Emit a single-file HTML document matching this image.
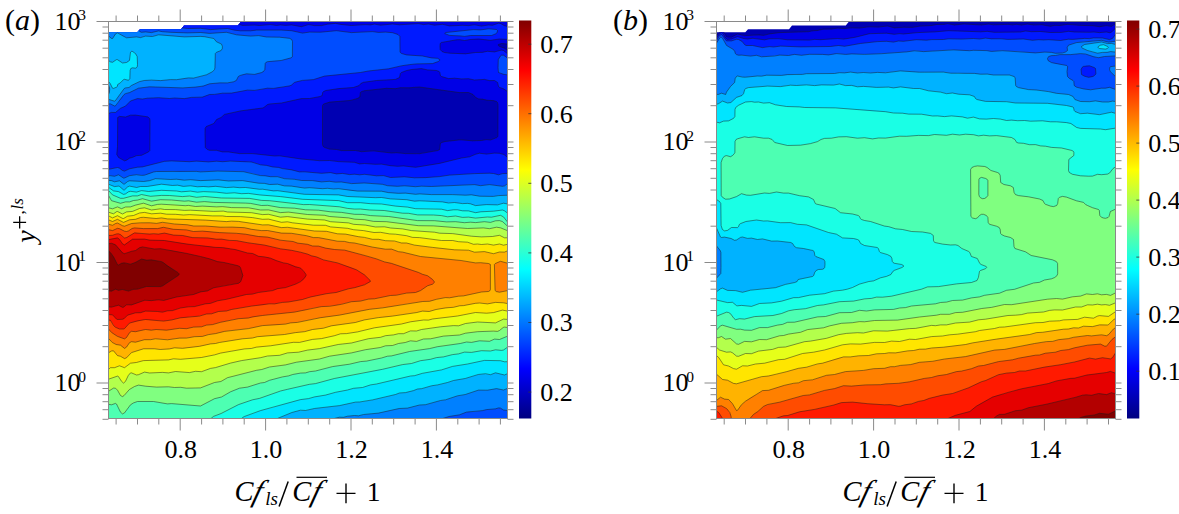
<!DOCTYPE html><html><head><meta charset="utf-8"><style>html,body{margin:0;padding:0;background:#fff;}svg{display:block;}text{font-family:"Liberation Serif",serif;fill:#000;}</style></head><body>
<svg width="1179" height="514" viewBox="0 0 1179 514">
<rect width="1179" height="514" fill="#fff"/>
<defs><linearGradient id="jet" x1="0" y1="1" x2="0" y2="0"><stop offset="0" stop-color="#000080"/><stop offset="0.125" stop-color="#0000ff"/><stop offset="0.375" stop-color="#00ffff"/><stop offset="0.625" stop-color="#ffff00"/><stop offset="0.875" stop-color="#ff0000"/><stop offset="1" stop-color="#800000"/></linearGradient>
<clipPath id="clipa"><polygon points="108.5,418.5 108.5,32.2 137.3,32.2 140.0,29.2 181.0,29.2 184.0,25.6 237.8,25.6 241.0,21.5 507.5,21.5 507.5,418.5"/></clipPath>
<clipPath id="clipb"><polygon points="716.5,418.5 716.5,32.2 745.3,32.2 748.0,29.2 789.0,29.2 792.0,25.6 845.8,25.6 849.0,21.5 1115.5,21.5 1115.5,418.5"/></clipPath>
</defs>
<g clip-path="url(#clipa)" fill-rule="evenodd">
<rect x="107.5" y="20.5" width="401" height="399" fill="#0000b2"/>
<path d="M109.5 21.5l398 0l0 22.6l-6 -0.7l-3.2 1.1l0.1 1l1.3 1l4.8 1.7l3 2.4l0 357.9l0 10l-399 0l0 -397zM412.7 87.5l-12.2 0.2l-5 0.9l-9 -0.4l-22 2.5l-2.8 0.8l-1.3 1l-0.5 4l-0.6 1l-2 1l-6.8 1.9l-21 1.7l-6 1.9l-0.9 1.5l-0.1 39l0.7 2l1.5 1l4.8 1.5l7 0.4l5 1.2l14 -0.1l6 1.1l12 -0.8l18 2.1l5 -0.2l10 0.9l13 0l18.3 -3.1l1.9 -1l0.7 -6l1.3 -1l3.5 -1l15.3 -1.8l12 1.1l9 -0.4l5 -0.8l4 0.3l6.3 -2.4l1.1 -1l0.1 -32l-0.5 -2l-1.1 -1l-2.9 -1l-6 -0.2l-5 -1.2l-4 -0.2l-2.7 -1.4l-2.7 -3l-4.6 -2l-9 0.1l-40 -5.7z" fill="#0000e6"/>
<path d="M109.5 21.5l128.1 0l0.6 2l1.2 1l3.1 0.9l12 -0.3l5 0.4l11 -0.9l6 0.9l4 -0.6l5 0.5l6 -0.5l10 1.8l7 -2.1l6 1l7 0l6 -1.4l8 -0.8l5 1l11 1.1l14 -0.9l5 0.3l4 -0.8l6 1.1l12 -1.2l7 0.8l19 -1.2l5 1l5 -0.6l6 1.2l8 -0.9l7 1.6l13 -0.6l6 0.3l6 -0.8l7 1.3l7 -1.1l4 0.3l6 -2.1l2 0.3l4 2.2l3 0.7l0 13l-8 -0.4l-9 1.3l-12 -1.2l-8.3 0.4l-5.7 1l-5 -0.8l-3 0.1l-15.2 2.7l-1.1 1l-0.2 3l0.2 3l1.8 2l2.5 1l6 0.8l15 0.6l10 -1.4l7 -0.1l5 -1.1l7 0.6l6 -1.7l2 0l2 1l3 2.5l0 37.8l-4 -2.7l-4 -1.4l-1 -0.9l-0.9 -4l-3.1 -2l-5 0l-5 -1.1l-10 0.6l-6 -1.3l-7 0.2l-7 -0.7l-6 0.4l-7 -2.1l-1.1 -1l-0.6 -3l-0.7 -1l-2.6 -1l-9 -0.6l-6 -1.3l-10 0.9l-4.8 1l-5.3 2l-1 1l-0.9 4l-4 1.9l-19 1.1l-13 1.8l-2.7 1.2l-1.6 2l-5.9 2l-14.8 1.1l-12.6 1.9l-2.4 1l-0.8 1l-0.5 3l-2 1l-10.7 2l-8 0.1l-20 4.4l-12 1l-1.9 0.5l-3.8 3l-1.3 0.5l-22 2.9l-16 3.5l-3.5 3.1l-4.4 2l-2.8 4l-7.5 3l-0.9 1l-0.4 2l0.1 17l0.8 2l3.6 1.8l7 0l6 1.6l6 0l11 1.7l13 0l22 2.4l5 -0.2l21 3.1l19 1.7l11 -0.1l8 1.1l16 0.7l2 0.6l3 1l5 -0.4l11 0.8l6 -0.2l9 1.6l7 0.6l6 -0.4l12 1.4l24 -3.9l22 -5.4l8 -1.2l6 -2.5l4 -1.1l7 0.9l8 -1l5 0.2l4.5 1.2l3.5 2.9l0 261.1l-399 0l0 -397zM129.7 115.5l-4.2 1.6l-6 -0.7l-1.8 1.1l-0.3 29l-0.7 8l1.8 3l6 3.3l2 -0.6l3 -2l4 -1.1l3 -1.5l5 -0.3l7 -3.3l1.2 -1.5l0.2 -31l-1 -2l-1.4 -0.7l-13 -1.8z" fill="#001aff"/>
<path d="M109.5 21.5l65.5 0l0.3 4l0.9 1l2.5 1l9.8 1l12 -0.2l9 1.3l18 -1.1l7 1.7l6 0.6l10 0l6 -0.7l25 0l10 0.6l11 2.4l7 -1l11 0.1l16 -1.5l15 1.9l21 -1l6 0.8l7 -0.3l7 0.6l5.5 1.8l1.9 2l0.1 15l0.3 1l1.3 1l4.9 1.4l16 1.1l9 1.9l6 0.4l2.1 1.2l0 1l-1.2 1l-5.9 2.1l-17 0.4l-12 1.4l-7 1.5l-8 1.9l-20 2.2l-8 1.5l-36 3.6l-11 3.5l-11 0.8l-5 1.1l-3.1 1l-3.5 3l-7.4 1.5l-5 0.4l-5 1l-6 -0.2l-12 2.2l-9 -0.2l-15 2.9l-9 0.1l-8 1.2l-5 0.1l-8 2.8l-10 0.1l-8 1.2l-9 -0.6l-5 0.5l-11 -0.8l-11 0.5l-5 0.8l-5 -0.4l-7 2.4l-5 5.1l-5 2.2l-5 4.2l-4 -0.1l-3 1.1l0 -92zM484.5 29.4l4 -0.6l8 0.7l1 1l-0.3 2l-1.7 1.4l-3.9 1.6l-21.1 0l-6 0.9l-4 -0.5l-11 -0.5l-4.8 -1.9l1.2 -1l27.6 -2.9l7 0.3zM501.5 55.2l2 0.1l4 2.7l0 16.9l-3 -0.3l-5 -1.5l-1.4 -1.6l0.2 -12l1.7 -3zM163.5 161.5l8 -0.5l18 0.7l7 -0.5l12 0.7l8 -0.7l6 0.6l8 -0.7l14 0.9l5 -0.2l5 0.9l7 2.3l5 0.4l6 1.6l6 0.4l4 1.2l9 1.3l8 2.1l5 -0.2l17 1.5l9 -0.6l6 1.2l6 -0.5l7 1.2l5 -0.4l5 0.6l5 -0.5l12 1.5l7 -0.2l7 2l14 -0.7l10 0.9l11 -0.1l14 -1.1l10 -1.5l25 -1.5l15 -0.4l4 0.3l5 1.3l4 -1.2l5 -0.2l0 245.1l-45 0l-354 0l0 -249.2l9 -1.8l2 0.7l3 2.4l2 0.5l5 -2.3l8 -1.6l5 -0.3z" fill="#004dff"/>
<path d="M109.5 21.5l28 0l0.6 8l1.4 1.9l2 0.9l4 -0.4l6 0.7l7 -1.7l4 0.8l9 0.6l15 0.6l14 -0.4l9 0.9l17 -1.1l11 2.6l12 1.1l9 -0.4l7 1.3l14 0.3l10.7 1.3l1.5 1l0.8 2l0 14l-0.8 2l-10.5 3l-9.7 0.5l-5 1.1l-1.3 1.4l-0.7 7l-3 2.1l-8 1.9l-7 -0.7l-3.5 0.7l-4.7 2l-2 4l-2.8 1.3l-6 1.1l-7 -0.1l-11 1l-8.6 2.7l-17.4 1.4l-34 -1.1l-11 1.4l-9 4.4l-5 1.6l-3 3.3l-5 7.4l-2 1.1l-4 -2.1l-2 0l0 -82.4zM156.5 171.4l17 -0.2l6 0.5l16 -0.4l5 0.5l17 -0.8l25 0.5l10 1.8l7 2l11 1.4l7 -0.1l7 2l9 0.5l9 1.5l9 -0.2l9 1.4l8 -0.6l6 0.9l7 -0.2l11 1.7l11 -0.6l7 0.2l12 1l6 1.5l8 0.5l8 -0.5l11 0.9l6 -0.5l9 0.4l43 -2l7 1.1l9 -1.1l13 1.8l2 -0.5l3 -2.2l0 226.8l-4 -0.5l-4 -2.2l-5 1.2l-8 0.6l-5 1.2l-8 1l-5 0l-3.3 0.8l-5.7 2.2l-10.5 1.8l-6.2 2l-334.3 0l0 -242.7l2 -0.2l4 0.6l4 -1.4l5 3.2l1 0l5 -2.4l7 -1l7 0.7l5 -1.3l5 -2.1z" fill="#0080ff"/>
<path d="M116.5 33.1l2 0l4 2.8l4 1.9l10 -0.9l4 0.7l5 -1.5l6 0.5l7 -1.8l26 2.1l17 -0.5l10 1.3l2.3 0.8l2.7 3.3l5 2.3l0.9 2.4l-0.1 2l-1.2 2l-4.6 1.8l-1.2 1.2l-0.7 16l-2.1 2.2l-7 3.5l-11 2.7l-4 0.1l-4 0l-10 1.7l-7 0l-9 0.9l-14 -0.4l-6 1.1l-9.1 4.2l-2.4 2l-3.5 0.4l-1.3 0.6l-8.7 12l-1 0.7l-6 -1.9l0 -4.8l1 -2.5l0.2 -2.5l-0.2 -2.1l-1 -2.3l0 -49.1l3 2.5l1 0.1zM153.5 179.2l3 -0.5l14 0.9l6 -0.3l6 1l8 -0.5l9 0.9l18 -0.7l11 1l15 -0.3l15 2.6l5 0l7 1.4l7 -0.4l6 1.5l8 0.4l13 1.9l6 -0.3l11 1l6 -0.5l6 0.7l6 -0.2l13 2.1l29 0.3l7 1.5l10 0.7l7 -0.2l10 1.1l5 -0.3l10 0.6l22 0l13 0.6l6 -0.3l8 1.3l13 0.3l6 -0.9l9 -0.4l0 193.2l-4 1.6l-7 -1.4l-10 1.7l-8 -0.2l-14 4.7l-8 1.2l-11 3.9l-6 0.8l-14 4l-6 0.4l-12 3l-9 0.5l-20 4.5l-14 1.3l-6 1.4l-4 -0.3l-7 0.7l-4 1.1l-5 0.1l-4.2 1.1l-225.8 0l0 -238l3 0.2l3 1.1l5 -0.9l4 3.2l1 0l3 -2.5l2 -0.7l15 0.6l5 -0.8z" fill="#00b2ff"/>
<path d="M131.5 51.5l3 1.1l2.7 3.9l0.1 10l-1.8 1.7l-3 -0.4l-1.7 0.7l-0.7 2l-0.6 9.1l-1 0.7l-4 -0.9l-1 0.3l-3 3l-2.8 1.8l-0.4 2l-0.8 0.8l-3 1.2l-1 -0.2l-0.7 -1.8l-1.6 -3l-1.7 -1.9l0 -21l2 1.4l2 0.3l4 -2.7l1 0.2l5 3.2l5 -0.8l2 -1.7l0.4 -1l0.2 -6zM109.5 184.4l5 2.3l4 -0.6l1 0.4l4 3.4l1.6 -0.4l2.4 -2.4l2 -1l7 1.5l4 -1.1l7 0l14 -2.3l10 1.3l6 -0.3l5 1.2l8 -0.6l7 1l12 0.1l7 -0.5l9 1.2l8 -0.4l6 0.5l6 -0.2l13 1.8l5 0l9 1.6l6 -0.1l26 3.5l34 0.6l9 1.7l29 1.2l5 -0.2l8 1.2l17 0.9l8 1.5l6 -0.4l22 1.1l5 1l6 -0.4l9 1.1l6 -0.2l7 2.2l11 -0.9l10 0.3l7 -1.8l4 0.9l0 169.6l-3 1.4l-9 -2.3l-5 2l-6 -0.9l-6 0.5l-13 4.1l-11 1.7l-6 2.1l-12 2.9l-4 0.4l-10 2.9l-5 0.6l-4 1.5l-8 2l-6 0.5l-4 1.4l-24 5.7l-11 1.8l-6 0.3l-16 3.5l-24 2.7l-8 2l-7 0l-7 1.8l-15.1 6.2l-168.9 0l0 -234.3z" fill="#00e5ff"/>
<path d="M108.9 187.5l4.6 3.4l5 0.7l5 2.8l2 -0.5l3 -2l2 -0.6l6 0.8l5 -1.5l7 0.9l13 -1.1l16 0.7l5 0.8l7 -0.8l7 1.1l7 -0.6l12 0.5l10 1.3l8 -0.6l8 0.9l7 -0.3l10 1.5l23 1.8l21 2.6l36 1.4l9 2l12 0l9 0.9l14 0.5l12 2l13 1l7 1.5l20 0.2l7 0.5l6 1.3l9 -0.8l7 1.2l5 -0.1l7 1.8l12 -1.5l7 -0.1l7 -1.1l2.4 0.5l3.6 2.7l0 148.5l-3 0.1l-4 -1.1l-15 -0.4l-5 0.6l-13 3.1l-15 2.4l-12 3.8l-19 3.3l-6 2l-6 0.7l-33 7.8l-7 1.1l-7 2.3l-8 0.6l-6 1.8l-12 2.2l-12 3.3l-10 1.5l-5 1.6l-9 1.2l-15 3.8l-15 4.8l-10 2.3l-7 3l-9.1 3l-1.8 1l-0.5 1l-133.6 0l0 -231.2z" fill="#1affe5"/>
<path d="M108.5 190.5l4 4.4l7 3.1l2 0.4l11 -2.5l5 0l4 -1.4l9 1.8l10 -0.9l8 0.1l14 1.1l7 -0.6l7 1.2l8 -0.7l16 1.5l28 0.4l12 1.9l8 0.2l28 3l6 1l7 0l30 2.3l7 1.5l8 0.8l6 -0.1l8 1l16 0.5l19 2.8l5 0l9 1.6l16 0.1l8 0.6l6 1.2l9 -0.8l6 1.4l6 -0.3l7 1l11 -1.1l5 0.2l7 -1.7l3 0l2 1.3l4 5.2l0 125.2l-5 3.1l-7 -0.5l-5 1.2l-10 -0.2l-10 1.7l-5 -0.5l-9 2.1l-5 0.7l-9 2.3l-5 0.3l-6 1.7l-11 1.6l-9.2 2.8l-7.8 0.9l-12 3l-15 2.7l-17 3.9l-25 4.4l-19 5.2l-7 0.9l-28 6.5l-21 7.4l-7 1.4l-14 4.8l-17 8.8l-8 3l-2.5 2.1l-102.5 0z" fill="#4dffb2"/>
<path d="M108.6 195.5l2.9 5.2l9 2.6l5 -1.4l4 0l4 -1.4l4 -0.5l5 -1.3l9 2.5l10 -1.5l12 0.4l10 1.1l6 -0.3l7 1.3l7 -0.7l11 1l34 0.7l13 2.3l7 -0.1l11 2.1l16 0.7l9 1.5l12 0.3l14 1.8l11 0.6l14 2l7 0l7 1.1l19 1l30 4.2l15 -0.1l14 1.3l9 -0.2l7 1l7 -0.5l6 0.3l8 -0.8l6 0.7l6 -1.8l5 0.5l6 5.1l0 110l-3 0.9l-4.9 2.4l-5.1 -0.3l-5 2.2l-11 -0.6l-7 1.7l-5 -0.4l-23 4.1l-6 0.6l-7 1.7l-20 2.8l-12 2.6l-6 1.9l-6 0.6l-5 1.7l-14 2.9l-6 0.5l-12 2.8l-16 2.2l-18 4.5l-6 0.7l-5 1.4l-4 0l-6 1l-6 1.9l-10 1.9l-9 2.4l-5 2.2l-5 0.8l-13 4.1l-8 1.2l-8 3.2l-8 4.9l-8 2l-14 7.4l-29 -2.5l-5 0.2l-13 -2.3l-16 0l-3 0.9l-3.5 2.1l-6.5 8.4l-2 1l-1 -0.4l-5 -9.5l-1 -0.6l-4 1.4l-3 -0.4z" fill="#80ff80"/>
<path d="M141.5 203.5l3 -0.1l7 2.5l9 -1.7l5 0.5l8 -0.1l10 1.2l6 -0.3l7 1.1l5 -0.4l13 0.8l8 -0.4l9 1l18 0.4l12 2.2l7 -0.2l12 2.7l7 -0.6l19 2.4l18 0.8l6 1.4l18 1.2l7 1.5l9 0.4l7 1.5l5 0.5l10 0l31 3.9l17 0.3l33 2.6l16 -0.6l6 0.8l7 -1.5l5 0.9l6 2.5l0 96.8l-4 -0.1l-4 3.1l-2 0.9l-12 -0.2l-8 0.5l-11 1.3l-7 2l-17 1.2l-11 2.5l-8 0.3l-4.4 1.5l-2.6 0.9l-6 -0.5l-6 1.9l-6 0.7l-5 1.9l-8 0.4l-5 1.7l-17 2.6l-13 3l-21 3.1l-11 3l-23 3.1l-14 3.4l-13 1.5l-7 2.4l-5 0.7l-29 7.4l-6 3.6l-7 1.2l-14 5.4l-14 0.3l-7 -1l-5 0.3l-6 -0.7l-15 0.2l-15 -1.9l-3 0.9l-6 3.4l-5 5.8l-2 1.4l-2 -1.1l-3 -5.3l-2 -2l-2 -0.1l-5 3.2l0 -183.4l4 1l5 -2l3 1.5l2 0.3l3 -1.6l5 -0.1z" fill="#b3ff4c"/>
<path d="M139.5 208.5l5 -0.6l7 2.1l9 -1.2l5 0.8l8 -0.1l11 0.9l5 -0.3l6 0.7l6 -0.2l12 0.8l9 -0.3l5 0.9l23 0.6l11 2l7 -0.3l12 3l7 -0.7l20 2.5l17 0.9l6 1.7l18 1.2l6 1.6l10 0.5l10 2l11 -0.1l6 1.3l12 0.8l7 1.5l24 1.7l6 1.2l13 0.3l19 2.7l8 0.5l12 -0.4l7 -1.2l5 2.5l3 0l0 81.6l-4 -0.2l-8 3.8l-10 -0.9l-9 0l-11 1.4l-7 2.3l-5 -0.2l-13 1.2l-12 2.1l-6 0.4l-6 1.7l-6 -0.1l-6 2.6l-6 0.2l-5 1.2l-8 0.8l-6 1.8l-12 1.4l-16 4.1l-12 1.3l-21 4.5l-10 1.1l-10 2.3l-11 0.7l-7 2.2l-12 0.8l-7 1.7l-20 3l-11 2.5l-15 4.5l-6 1.1l-8 3l-6 -0.4l-7 1.3l-13 -1.1l-6 1.3l-7 -0.4l-12 0.6l-6 -0.9l-6 2.6l-2 0.3l-5 -2.1l-1 0l-2 2.2l-3 6.3l-2 1.7l-2 -1.8l-3 -4.7l-1 -0.5l-9 3.1l0 -167l5 1.7l4 -2.4l5 2.5l4 -2.1l6 -0.5z" fill="#e5ff1a"/>
<path d="M142.5 212.5l3 0l7 1.4l8 -0.7l6 1l8 0l10 0.8l5 -0.3l13 0.4l10 0.8l10 0l5 0.7l7 -0.4l17 1.3l11 1.9l6 -0.3l13 3.2l6 -0.5l5 1.1l21 2.3l12 0.1l5 1.7l17 1.3l7 1.6l10 0.8l9 1.8l8 -0.1l8 1.5l17 1.9l7 1.8l7 0.1l20 2.7l12 0.1l6 1.2l9 0.5l6 2.1l4 -0.2l5 0.5l5 -0.6l6 1.1l6 -1.1l4 1.3l4 -1l0 66.9l-5 -1l-8 2.3l-7 0.9l-12 -0.9l-17 3.4l-25 3l-5 1.3l-4 -0.1l-14 1.8l-8 2l-28 4l-18 4.2l-10 1.5l-7 0.5l-5 1.7l-12 2.7l-10 1l-12 2.8l-7 0.1l-62 8.6l-31 6.8l-20 1.6l-7 -0.6l-5 1.1l-25 0.8l-8 2l-5 0.5l-6 4.6l-5 -2l-5 2l-4 0l-2 1.7l0 -153.7l4 2.1l5 -2.2l6 2.8l4 -2.2l6 -0.8l6 -2.5z" fill="#ffe500"/>
<path d="M140.5 217.5l5 0l10 1l6 -0.6l6 1l38 1.2l20 1.5l7 -0.6l7 0.5l23 3.4l6 -0.1l13 2.8l7 -0.2l26 3.6l11 0.1l12 2.7l8 0.3l28 5.3l5 -0.1l7 1.4l8 0.2l7 1.9l7 0.3l6 1.8l17 2.3l25 2.6l13 0.4l6 2l10 -0.6l9 2.1l6 -1.7l5 0.1l3 -1.3l0 52.9l-4 -0.9l-8 -0.4l-8 1.6l-7 -0.9l-5 0.3l-11 2.1l-5 0.4l-6 1.4l-17 2.1l-7 2.1l-7 -0.3l-6 1.4l-30 4.4l-9 0.8l-13 2.2l-9 2.5l-24 3.4l-9 2.6l-9 0.9l-9 2.4l-9 0.9l-11 1.9l-27 2.2l-6 1.4l-6 0.3l-25 3.8l-5 1.3l-5 0.4l-11 2.4l-16 2l-9 -0.5l-6 1.3l-7 0.3l-6 -0.6l-12 0l-12 3.7l-5 5.3l-2 0.8l-4 -2.4l-3 -0.6l-4 -4.8l-2 0.2l-3 1.8l0 -133.1l4 1.7l5 -2.2l6 3.1l6 -2.6l6 -0.5z" fill="#ffb300"/>
<path d="M161.5 222.4l11 1.5l15 0.9l7 1.3l11 0l20 1.4l7 -0.4l12 0.7l7 1.5l9 1.2l7 0l14 2.6l9 0.1l16 2.5l7 1.9l6 0.1l18 3.6l7 0.1l6 1.4l4 0.2l4 1.3l6 0.6l7 2l14 2.3l6 -0.1l7 2.7l5 0.5l17 4.3l40 3.9l15 2.4l6 -0.1l8 1l0.9 0.7l0 1l0 24l-0.3 1l-1.5 1l-7.1 0.5l-17 3.8l-5 0.3l-9 1.6l-6 0.1l-8 1.5l-6 1.9l-7 0.2l-18 2.5l-15 2.8l-20 2.5l-30 5.8l-26 3.7l-18 3.8l-6 0.4l-5 1.2l-8 0.8l-15 0.7l-14 3l-22 2.4l-10 2.5l-8 1.1l-6 1.8l-7 0.2l-9 1.5l-11 0.4l-7 1.2l-13 -0.9l-6 1l-6 0.1l-8 2.3l-4 -0.5l-2 1l-3 4.4l-2 1.4l-4 -3.3l-4 -0.5l-4 -2.1l-4 -4.2l0 -114.2l4 1.2l3.1 -1.9l1.9 -0.5l5 2.7l2 0.5l7 -2.7l17 -0.7l8 0.7zM499.5 261.4l2 0l6 1.8l0 27.4l-5 1l-3 0.6l-2 -0.3l-1.3 -0.4l-1.3 -2l-0.5 -25l0.9 -1z" fill="#ff8000"/>
<path d="M162.5 227.3l11 2l13 0.6l7 1.6l11 -0.4l14 1.4l26 1.5l13 2.3l10 0.8l14 3.3l11 1l6 1.9l9 1l5 1.7l6 0.1l7 2l10 1.5l10 0.7l31 8.6l8 3l6 1.1l27 9l5 2.3l5 1.4l4.1 2.8l2.5 3l0.2 1l-1.8 1.7l-5 1.6l-6 4.3l-4 1.8l-3 0.8l-8 0.4l-11 2.2l-5 0.2l-16 3.3l-7 0.4l-7 1.9l-10 0.7l-14 3.4l-16 1.6l-8 1.3l-8 2.2l-11 1.9l-31 3.3l-15 2.7l-7 0.3l-7 1l-14 3l-7 2.1l-6 0.5l-5 1.7l-8 0.3l-7 1.6l-7 -0.4l-13 1.9l-10 -0.7l-6 0.7l-5 -0.7l-10 2.2l-4 -0.4l-2 1.4l-3 4.8l-2 1.4l-7 -2.6l-5 -3l-4 -4.3l0 -99.4l4 1l5 -2.3l3 0.7l4 2.2l2 0.2l2 -0.5l3.5 -2.4l2.5 -0.6l9 0.7l10 -0.4l4 0.4z" fill="#ff4c00"/>
<path d="M133.5 233.2l2 -0.4l6 0.9l17 0.4l6 -1l9 2l9 0.4l11 2.2l14 0.2l8 1.2l6 0l8 1.3l8 0.3l10 2l18 2.5l14 3.5l11 1.3l10 2.2l7 1.9l4 1.7l6 1.4l6 2.7l14 3l13.7 4.6l4.7 2l8.2 5l6.1 6l0.2 1l-1.3 1l-5.6 2.6l-8 2.4l-7 1.2l-12 3.7l-8 0.8l-19.6 4.3l-6.2 2l-14.2 2.4l-8 0.7l-5 1.1l-7 0.1l-5 1.1l-12 1.2l-19 3.1l-6 1.8l-8 0.5l-7 2.3l-5 0.2l-10 2.6l-7 0.1l-4 0.9l-6 0.3l-7 1.8l-8 1.4l-20 -1.4l-15 3.4l-5 5.5l-1 0.4l-5 -0.3l-4 -2.1l-3 -5.1l-1 -1.1l-2 -0.5l0 -84.4l4 -0.2l4 -1.4l2 -0.2l2 0.9l3 2.9l2 0.5z" fill="#ff1a00"/>
<path d="M114.5 238.3l2 -0.5l2 0.5l4 5.5l2 1l8 -5.7l11 -0.1l7 1.1l13 0.2l31 4.6l14 1.3l6 1l10 0.6l6 1.3l5 0.4l12 3.5l5 0.4l6 2.8l10 1.4l15 5.3l5 0.9l12.6 4.7l4.3 5l0.7 2l-0.4 1l-3.5 4l-6.7 3.6l-10 3.4l-7 0.9l-5 1.9l-16 2.3l-5 1.5l-6 0.4l-19 4.5l-10 1.8l-7 2.5l-6 0.6l-10 2.7l-5 0l-10 1.5l-7 2.5l-5 0.2l-5 1.3l-6 -0.8l-11 -0.3l-5 1.7l-5 0.1l-8 2.4l-4 3.8l-6 0.4l-1.6 -0.9l-3.4 -3.8l-4 -0.2l0 -75z" fill="#e50000"/>
<path d="M109.5 243.5l3 -0.1l3 1.4l8 8.8l2 -0.1l6 -2.2l4 -0.7l4 -2.9l2 -0.7l13 1.9l6 -0.2l6 1.4l5 0.5l17 3.1l21 5.1l8 2.8l6 0.8l13.9 3.1l2.2 1l0.8 1l2.4 7l-0.2 2l-2.1 5.4l-2 1.4l-14.1 2.2l-10.9 2.3l-6 3.1l-7 1l-6 2.4l-17 2.4l-13 3.6l-6 -0.5l-8 0.9l-5 -0.6l-14 4.8l-5 -0.1l-3 2.4l-2 -0.2l-3 -1.8l-7 1.8l-3 0l0 -63.3z" fill="#b30000"/>
<path d="M109.5 251.5l4 5.2l3.9 7.8l1.1 0.4l3 -1.7l2 -0.4l7 1.4l5 -1.9l6 -3.3l5 1.1l5 -0.3l11 2.3l16.4 11.4l0.2 1l-0.8 1l-8.8 5.7l-6.2 4.3l-2.8 1l-14 -0.1l-9 2.7l-5 0.4l-4 1.5l-6 -1.5l-4 0.8l-3 -1.1l-4 2l-3 -0.4l0 -40z" fill="#800000"/>
<path d="M507.5 44.1l-6 -0.6l-3.2 1l0.1 1l1.3 1l4.8 1.7l3 2.4M413.5 87.4l-4 0.5l-9 -0.2l-5 1l-9 -0.4l-22 2.4l-2.8 0.8l-1.3 1l-0.5 4l-0.6 1l-2 1l-6.8 1.9l-21 1.8l-6 1.9l-1 1.4l0 39l0.7 2l1.5 1l4.8 1.6l7 0.4l5 1.1l14 -0.1l6 1.2l12 -0.8l18 2.1l5 -0.3l9 0.9l14 0.1l18.3 -3.2l1.9 -1l0.6 -6l1.4 -1l3.4 -1l15.4 -1.7l12 1l9 -0.3l5 -0.9l4 0.4l6.3 -2.5l1.1 -1l0.1 -32l-0.5 -2l-1.1 -1l-2.9 -0.9l-6 -0.3l-5 -1.1l-4 -0.3l-2.8 -1.4l-2.7 -3l-4.5 -2l-9 0.1l-40 -5.6zM237.6 21.5l0.6 2l1.2 1l3.1 0.9l12 -0.3l5 0.4l11 -0.9l6 0.9l4 -0.6l5 0.5l6 -0.5l10 1.8l7 -2.1l6 1l7 0l6 -1.4l8 -0.8l5 1l11 1.1l14 -0.9l5 0.3l4 -0.8l6 1.1l12 -1.2l7 0.8l19 -1.2l5 1l5 -0.6l6 1.2l8 -0.9l7 1.6l13 -0.6l6 0.3l6 -0.8l7 1.3l7 -1.1l4 0.3l6 -2.1l2 0.3l4 2.2l3 0.7M507.5 39.4l-8 -0.4l-9 1.3l-12 -1.3l-8.3 0.5l-5.7 1l-5 -0.8l-3 0.1l-15.2 2.7l-1.1 1l-0.2 3l0.2 3l1.8 2l2.5 1l5 0.7l16 0.6l10 -1.3l7 -0.2l5 -1l7 0.6l7 -1.8l2 0.4l4 3.2M507.5 91.5l-4 -2.7l-4 -1.4l-1 -0.9l-0.9 -4l-3.1 -2l-5 0.1l-5 -1.2l-10 0.6l-6 -1.3l-7 0.2l-7 -0.7l-6 0.4l-7 -2.1l-1.1 -1l-0.6 -3l-0.7 -1l-2.6 -1l-9 -0.6l-6 -1.3l-10 0.9l-4.8 1l-5.3 2l-1 1l-0.9 4l-4 1.9l-19 1.1l-13 1.8l-2.7 1.2l-1.6 2l-5.9 2l-14.8 1.1l-12.6 1.9l-2.4 1l-0.8 1l-0.5 3l-2 1l-10.7 2l-8 0.1l-20 4.4l-12 1l-1.9 0.5l-3.8 3l-1.3 0.5l-22 2.9l-16 3.5l-3.5 3.1l-4.4 2l-2.8 4l-7.5 3l-1.2 2l-0.1 5l0.3 14l2 2l2.2 0.8l7 0l6 1.6l6 0l11 1.7l13 0l22 2.4l5 -0.2l21 3.1l19 1.8l10 -0.2l9 1.1l16 0.7l5 1.6l5 -0.4l11 0.8l6 -0.2l9 1.6l7 0.6l6 -0.4l12 1.4l24 -3.9l22 -5.4l8 -1.2l6 -2.5l4 -1.1l7 0.9l8 -1l5 0.2l4.5 1.2l3.5 2.9M130.5 115.2l-5 1.8l-6 -0.6l-1.8 1.1l-0.2 29l-0.7 8l1.8 3l5.9 3.3l2 -0.6l3 -2l3 -0.8l4 -1.8l5 -0.3l7 -3.4l1.3 -1.4l0.2 -30l-0.3 -2l-2.2 -1.7l-12 -1.7zM175 21.5l0.1 3l1.1 2l3.3 1.2l8 0.8l13 -0.2l10 1.3l17 -1.1l7 1.7l6 0.6l10 0l6 -0.7l25 0l10 0.6l11 2.4l7 -1l11 0.1l16 -1.5l15 1.9l21 -1l6 0.8l7 -0.3l7 0.6l5.5 1.8l1.9 2l0.1 15l0.3 1l1.3 1l4.9 1.4l16 1.1l9 1.9l6 0.4l2.1 1.2l0 1l-1.2 1l-5.9 2.1l-16 0.3l-7 0.7l-8 1.2l-13 3l-20 2.2l-8 1.5l-36 3.6l-11 3.5l-11 0.8l-6 1.4l-2.1 0.7l-2.9 2.6l-2 0.8l-16 2.5l-6 -0.2l-13 2.2l-7 -0.3l-16 3l-9 0.1l-8 1.2l-5 0.1l-7 2.6l-11 0.3l-7 1.2l-10 -0.6l-5 0.5l-11 -0.8l-11 0.5l-5 0.8l-5 -0.4l-7 2.4l-5 5.1l-5 2.2l-5 4.2l-4 -0.1l-3 1.1M507.5 74.9l-4 -0.6l-5 -1.8l-0.5 -5l0.3 -8l2.2 -3.6l1 -0.7l2 0l4 2.8M108.5 169.3l9 -1.8l2 0.7l3 2.3l2 0.6l5 -2.3l8 -1.6l5 -0.3l22 -5.6l7 -0.4l18 0.8l7 -0.6l12 0.8l8 -0.7l6 0.5l8 -0.6l21 0.9l9 2.8l6 0.6l6 1.5l6 0.5l4 1.2l9 1.2l8 2.1l5 -0.1l17 1.5l9 -0.7l6 1.3l6 -0.5l7 1.2l5 -0.4l5 0.6l5 -0.5l12 1.5l7 -0.2l7 1.9l14 -0.7l10 1l11 -0.2l14 -1l10 -1.5l25 -1.5l15 -0.4l4 0.3l5 1.3l4 -1.2l5 -0.2M484.5 29.4l4 -0.6l8 0.7l1 1l-0.3 2l-1.7 1.4l-3.9 1.6l-21.1 0l-6 0.9l-4 -0.5l-11 -0.5l-4.8 -1.9l1.2 -1l27.6 -2.9l7 0.3zM137.5 21.5l0.6 8l1.6 2l1.8 0.8l4 -0.4l6 0.7l7 -1.7l4 0.8l8 0.6l17 0.6l13 -0.4l9 0.9l17 -1.1l10 2.5l14 1.3l8 -0.5l8 1.4l13 0.2l10 1.1l2.2 1.2l0.8 2l-0.1 15l-0.7 1l-1.2 0.5l-9.3 2.5l-13.7 1.2l-1.7 0.8l-0.6 1l-0.3 6l-1.4 2l-2 1.1l-7 1.8l-8 -0.6l-6.5 1.7l-1.7 1l-2 4l-2.8 1.3l-6 1.1l-8 0l-10 0.9l-6 2.2l-8 1.1l-13 0.8l-33 -1.1l-11 1.4l-9 4.4l-4 1l-1.4 0.9l-8.6 11.3l-1 0.2l-4 -2.1l-2 0M108.5 175.9l2 -0.2l4 0.6l4 -1.5l5 3.3l1 -0.1l5 -2.3l7 -1l5 0.7l3 -0.2l9 -3.2l3 -0.5l40 -0.1l4 0.5l17 -0.8l26 0.6l17 3.9l5 0.2l5 0.9l7 0l7 2l10 0.6l7 1.2l11 0.1l9 1.3l8 -0.6l6 0.9l6 -0.2l10 1.6l13 -0.6l18 1.3l5 1.4l10 0.6l7 -0.5l11 0.9l6 -0.5l10.1 0.3l42.9 -1.9l6 1.1l9 -1.1l13 1.7l2 -0.4l3 -2.2M507.5 410.5l-4 -0.5l-3 -1.9l-2 -0.2l-3 0.9l-9 0.8l-4 1l-16 1.5l-7 2.7l-10.5 1.7l-6.2 2M108.5 36l3.2 2.5l0.9 0l2.9 -4.6l2 -1l9 4.9l10 -0.9l4 0.7l5 -1.5l7.1 0.4l5.9 -1.7l26 2.1l16 -0.5l4 0.3l9.3 1.8l2.7 3.3l5 2.3l0.9 2.4l-0.1 2l-1.2 2l-4.6 1.8l-1.2 1.2l-0.3 14l-0.5 2.1l-2 2.1l-6 3.1l-13 3.3l-5 -0.2l-12 1.8l-6 -0.1l-10 1l-9 -0.5l-7.4 0.4l-4.6 1.1l-8.1 3.9l-2.4 2l-3.5 0.4l-1.3 0.6l-8.7 12l-1 0.7l-6 -1.9M108.5 94.5l0.9 -2l0.3 -3l-0.2 -2l-1 -2.4M108.5 180.4l3 0.2l3 1.2l5 -1l4 3.2l1 0l3.2 -2.5l1.8 -0.7l14 0.7l6 -0.8l6 -2l15 0.8l6 -0.3l8 1l6 -0.5l10 0.9l18 -0.7l10 1.1l14 -0.4l16 2.6l6 0.2l5 1.1l8 -0.3l7 1.7l7 0.2l13 2l5 -0.4l13 1l5 -0.4l6 0.7l5 -0.3l19 2.4l24 0.1l7 1.4l10 0.7l7 -0.2l10 1.2l4 -0.4l12 0.7l21 0l13 0.6l6 -0.4l8 1.4l14 0.2l5 -0.8l9 -0.4M507.5 388.4l-4 1.6l-7 -1.4l-9 1.6l-9 -0.1l-13.2 4.4l-7.8 1.3l-12 4l-5 0.7l-15 4.2l-6 0.3l-12 3.1l-8.3 0.4l-20.7 4.6l-15 1.4l-5 1.3l-4 -0.3l-7 0.7l-4 1.1l-4 -0.1l-5.2 1.3M108.5 60.5l2 1.4l2 0.4l4 -2.7l1 0.1l5 3.3l4 -0.5l3 -2.1l1 -8.1l1 -0.9l1.1 0.1l2.9 2.1l1.7 2.9l0.3 8l-0.2 2l-0.8 1.2l-1 0.5l-3 -0.4l-1.7 0.7l-0.7 2l-0.2 8l-1.4 1.8l-4 -1l-1 0.3l-3 3.1l-2.8 1.8l-0.4 2l-0.8 0.7l-3 1.2l-1 -0.2l-2.3 -4.7l-1.7 -1.9M108.5 184.2l6 2.4l4 -0.5l1.1 0.4l3.9 3.4l1 0l3 -2.9l2 -0.9l7.2 1.4l3.8 -1l6.7 0l14.3 -2.3l11 1.3l5 -0.3l6 1.2l7 -0.6l7 1l6 -0.3l5 0.4l7 -0.6l11 1.3l7 -0.5l6 0.6l6 -0.2l14 1.8l3 -0.1l11 1.7l4 -0.2l27 3.6l34 0.6l9 1.6l28 1.2l6 -0.2l9 1.4l16 0.8l8 1.5l5 -0.4l23 1.1l6 1.1l6 -0.5l8 1.1l5 -0.2l3 0.4l5 1.8l11 -1l11 0.3l6 -1.7l4 0.8M507.5 373.6l-3 1.4l-9 -2.2l-5 1.9l-5 -1l-7.3 0.8l-13 4l-11.7 2l-6 2l-10 2.4l-6 0.9l-10 2.9l-4 0.3l-4 1.6l-8 2l-6 0.4l-4 1.5l-23 5.4l-13 2.1l-4 0.1l-16 3.5l-25.1 2.9l-8.9 2l-5 -0.3l-8.6 2.3l-14.5 6M108.5 187.3l5 3.6l5 0.7l5 2.8l2 -0.5l3 -2.1l2 -0.5l6 0.8l5 -1.5l7 0.9l13 -1.2l15 0.7l5 0.8l9 -0.7l7 1.1l6 -0.6l13 0.6l10 1.1l8 -0.5l7 0.9l7 -0.3l11 1.5l21 1.7l22 2.7l36 1.3l9 2.1l13 0l10 1l11 0.3l14 2.1l12 1l8 1.6l26 0.5l6 1.4l6 -0.8l4 0l5 1l6 0.1l7 1.8l5 -0.9l13 -0.6l9 -1.2l2 0.8l3 2.3M507.5 361.7l-3 0.1l-4 -1.1l-16 -0.3l-17 3.6l-15 2.4l-11 3.5l-19 3.4l-8 2.4l-4 0.3l-34 8l-6 0.9l-8 2.6l-9 0.8l-6 1.7l-12 2.3l-10 2.8l-11 1.8l-6 1.7l-8 1l-40 11l-16.1 5.9l-1.8 1l-0.4 1M108.5 190.5l4 4.4l8 3.4l3 0l9 -2.4l5 0l4 -1.4l9 1.8l11 -0.9l8 0.1l13 1.1l7 -0.6l7 1.3l8 -0.8l17 1.5l28 0.4l12 2l8 0.3l34 3.9l6 -0.1l30 2.3l8 1.6l7 0.7l6 -0.1l9 1l14.7 0.5l18.3 2.7l6 0.1l9 1.6l16 0.1l8 0.6l6 1.2l8 -0.8l7 1.4l6 -0.3l7 1l12 -1.1l4 0.2l9 -1.9l3 1.6l4 5.1M507.5 347.2l-4 2.8l-2 0.4l-6 -0.6l-5 1.2l-9 -0.3l-10 1.7l-7 -0.3l-6 1.8l-6 0.7l-9 2.3l-7 0.7l-6 1.7l-10 1.4l-9 2.8l-9 1.1l-20 4.7l-48.2 9.2l-18.8 5.1l-6 0.7l-22 5l-7 1.7l-21 7.4l-7 1.4l-14 4.8l-17.4 8.9l-7.6 2.9l-2.5 2.1M108.5 195.4l3 5.3l9 2.6l5 -1.4l4 0l4 -1.4l4 -0.4l5 -1.4l9 2.5l9 -1.5l11 0.3l13 1.2l4 -0.4l8 1.4l8 -0.6l9 0.8l32 0.7l5 0.3l11 2.1l6 -0.2l13 2.3l14 0.6l11 1.6l13 0.4l12 1.6l11 0.6l13 1.9l8 0.1l8 1.2l18.2 0.9l28.8 4.1l17 0.1l12 1.2l9 -0.2l9 1l6 -0.5l5 0.4l9 -0.9l6 0.7l5 -1.6l4 -0.2l3 1l5 4.6M507.5 336.2l-8 3.3l-5 -0.4l-5 2.2l-10 -0.5l-8 1.6l-5 -0.4l-6.2 1.5l-22.8 3.2l-8 1.9l-20 2.9l-18 4.4l-4 0.3l-6 1.8l-15 3.1l-6 0.5l-11 2.6l-17 2.4l-17 4.4l-6 0.7l-4 1.2l-5 0.2l-7.8 1.4l-4.2 1.4l-6 1l-13 3.4l-5 2.2l-4 0.5l-13 4.1l-8 1.1l-9 3.6l-9 5.2l-7 1.7l-14 7.3l-29 -2.4l-4 0.3l-14 -2.4l-16 0l-4 1.4l-3 1.9l-6 8.1l-2 1l-2 -1.7l-4 -8.2l-1 -0.6l-4 1.4l-3 -0.5M108.5 207.8l4 1l5 -1.9l4 1.8l4 -1.7l5 -0.1l5 -1.8l8 -1.9l8 2.6l6 -1.4l4 -0.2l24 1.5l3 -0.3l7 1.1l7 -0.4l14 0.8l6 -0.3l9 1l17 0.2l12 2.2l8 -0.1l12 2.7l8 -0.5l19 2.4l17 0.8l5 1.2l19 1.4l6 1.3l10 0.5l9 1.7l13 0.3l32 4l15 0.2l34 2.6l16 -0.6l6 0.8l7 -1.5l4 0.6l7 2.9M507.5 327.5l-3 -0.4l-1.3 0.4l-3.7 3l-2 0.9l-4 -0.3l-16 0.6l-12 1.5l-6 1.8l-16 1.1l-13 2.7l-7 0.2l-7 2.4l-6 -0.6l-5.2 1.7l-6.8 1l-6 2l-7 0.3l-5.2 1.7l-14.8 2.2l-14 3.2l-22 3.3l-10 2.8l-23 3.2l-11 2.7l-16 2.1l-7.7 2.5l-5.3 0.8l-29 7.4l-6.6 3.8l-6.4 1l-14 5.4l-14 0.3l-6 -0.9l-6 0.2l-6 -0.7l-12 0.3l-11 -0.9l-7 -1.1l-4 1.4l-5.1 3l-5.3 6l-1.6 1.1l-2 -1.1l-3 -5.3l-2 -2l-2 -0.1l-5 3.2M108.5 212.2l5 1.6l3 -2.1l1.1 -0.2l4.9 2.5l4 -2.1l6 -0.5l7 -2.9l5 -0.7l7 2.2l9 -1.2l4 0.7l11 0.1l9 0.8l6 -0.2l23 1.2l10 -0.3l4 0.9l24 0.7l11 1.9l6 -0.3l12 2.9l7 -0.6l20 2.5l17 0.9l6 1.7l18 1.2l5 1.4l12 0.8l10 1.9l9 -0.2l6 1.2l12 0.9l9 1.7l23 1.6l5 1l13 0.4l19 2.6l10 0.7l11 -0.4l7 -1.2l5 2.5l3 0M507.5 319.4l-4 -0.3l-8 3.8l-18 -0.9l-12 1.5l-7 2.3l-5 -0.2l-13 1.2l-19 2.7l-5 1.5l-6 -0.1l-7 2.8l-5 0l-5 1.2l-8 0.8l-5 1.6l-12 1.4l-17 4.3l-13.3 1.5l-18.7 4.1l-12 1.5l-9 2.1l-11 0.7l-8 2.4l-12 0.7l-7 1.7l-19 2.9l-11 2.5l-15 4.5l-5 0.8l-9 3.3l-6 -0.4l-6 1.3l-14 -1.1l-7 1.4l-6 -0.5l-13 0.6l-5 -0.9l-6 2.6l-2 0.3l-5 -2.1l-1 0l-2.2 2.6l-2.9 6l-1.9 1.6l-2 -1.8l-3 -4.7l-1 -0.5l-9 3.1M108.5 215.8l4 2.1l5 -2.2l5 2.7l1.1 0.1l3.9 -2.3l6 -0.7l6 -2.5l5 -0.6l7 1.4l9 -0.6l6 1l9 0.1l8 0.7l6 -0.4l23 1.3l10 0l4 0.6l14 0.1l12 1l10 1.7l6 -0.2l13 3.2l6 -0.5l5 1l21 2.4l12 0.1l5 1.6l17 1.4l6 1.4l10 0.9l10.5 1.9l6.5 -0.2l9 1.6l6 0.3l11 1.5l6 1.7l7 0.2l22 2.9l11.2 0l5.8 1.2l9 0.5l6 2.1l4 -0.3l4 0.5l6 -0.5l6 1.1l6 -1.1l4 1.2l4 -0.9M507.5 311.1l-5 -1l-9 2.5l-7 0.6l-11 -0.7l-18 3.5l-25 3l-4 1.1l-5 -0.1l-13 1.8l-9 2.2l-27 3.8l-17 4.1l-11 1.7l-6 0.2l-6 1.9l-13 2.9l-9 0.8l-13 3l-6 -0.1l-23 3.5l-14 1.3l-5.2 1.4l-6.8 0.4l-24 4.2l-6 1.8l-13 2.6l-21 1.8l-7 -0.5l-5 1.1l-25 0.7l-7.1 1.9l-5.9 0.7l-6 4.5l-5 -1.9l-5 1.9l-4 0l-2 1.7M108.5 219.8l4 1.7l5 -2.2l6 3.1l6 -2.6l6 -0.5l5 -1.8l3 -0.2l12.6 1.2l5.4 -0.6l6 1l38 1.2l21 1.5l5 -0.5l7 0.3l24 3.5l6 -0.1l13 2.8l6 -0.3l27 3.7l12 0.3l11 2.5l8 0.3l13 2.6l6 0.7l8 1.9l6 0l7 1.4l9 0.3l7 2l5 0l8 2.1l18 2.3l22 2.4l14 0.4l6 2l10 -0.6l9 2.1l6 -1.7l5 0.1l3 -1.3M507.5 303.6l-4 -0.8l-8 -0.4l-8 1.5l-8 -0.9l-4 0.3l-12 2.3l-4 0.2l-6 1.5l-8 0.6l-9.5 1.6l-6.8 2l-6.7 -0.4l-5.6 1.4l-24.4 3.6l-14 1.5l-14 2.3l-9.2 2.6l-23.8 3.3l-8 2.4l-11 1.3l-8 2.2l-9 0.9l-11 1.9l-27 2.2l-5 1.3l-10 0.8l-23.1 3.7l-3.9 1l-5 0.4l-11 2.4l-17 2l-8 -0.5l-5 1.1l-9.4 0.6l-5.6 -0.7l-11 0l-12 3.8l-5 5.2l-2 0.8l-4 -2.3l-3 -0.7l-4 -4.8l-2 0.2l-3 1.8M108.5 224.2l4 1.1l3.1 -1.8l1.9 -0.5l5 2.7l2 0.5l7.1 -2.7l8.9 -0.7l10 0l6 0.6l6 -1.1l12 1.7l13 0.8l6 1.2l12 0l15 1.2l12 -0.1l12 0.6l7 1.6l10 1.3l6 -0.1l14 2.6l10 0.2l15 2.4l7 1.9l5 0l19 3.6l7 0.2l5 1.2l5 0.4l18 4.1l13 2.1l6 -0.1l7 2.6l4 0.4l18 4.4l40.6 4l14.4 2.4l5 -0.2l8 0.8l1.9 1l0 2l0 23l-0.3 1l-1.6 1l-7 0.5l-18 3.9l-5 0.3l-9 1.6l-4 -0.2l-9 1.7l-7 2l-6.7 0.2l-40.3 6.4l-13 1.4l-30 5.8l-19 2.6l-23 4.7l-7 0.5l-5 1.2l-23 1.5l-14 3l-24 2.8l-9 2.2l-7 1l-6 1.8l-8 0.3l-8 1.4l-7 0l-12 1.7l-12 -1l-5 0.9l-6 0l-9 2.5l-4 -0.5l-2 1l-3 4.4l-2 1.3l-4 -3.2l-4.4 -0.7l-3.8 -2l-3.8 -4.1M507.5 290.6l-8 1.6l-3.3 -0.7l-1.1 -1l-0.7 -26l0.9 -1l5.2 -2.2l7 1.9M108.5 229.6l4 1l5 -2.3l2 0.4l5 2.5l2 0.3l2 -0.6l3.5 -2.4l2.5 -0.6l9 0.7l14 0l6 -1.3l10 2l13 0.6l7 1.6l9 -0.4l17 1.5l17 0.7l9 0.9l13 2.3l9 0.6l13 3.1l12.6 1.3l4.4 1.6l10 1.2l5 1.7l6 0.1l7 2l9 1.4l10 0.6l21 5.6l11 3.2l8 3l7 1.5l27.2 9.1l3.8 1.8l5 1.4l5.1 3.8l1.5 2l0.2 1l-1.8 1.7l-5 1.6l-7 4.8l-5 1.9l-9 0.6l-10 2.1l-6.1 0.3l-15.9 3.3l-6 0.3l-8 2l-9 0.6l-10 2.6l-12 2l-8 0.3l-27 5.5l-32 3.4l-10 1.4l-4 1.1l-10 0.7l-18 3.6l-8 2.3l-6 0.5l-5 1.7l-8 0.3l-7 1.6l-7 -0.4l-13 1.9l-10.4 -0.7l-4.6 0.7l-6 -0.7l-10 2.2l-4 -0.4l-2 1.4l-3 4.8l-2 1.4l-7 -2.5l-5.9 -3.9l-3.1 -3.5M108.5 235.5l4 -0.2l4 -1.4l2 -0.1l2 0.8l4 3.4l2.3 -0.5l7.7 -4.6l15 1.2l4 -0.4l5 0.4l6 -1l9 2l9.1 0.4l9.9 2.1l15 0.3l9 1.3l5 -0.1l8 1.3l7 0.2l11 2.1l17 2.4l16 3.7l11 1.5l9 1.9l7 1.9l4 1.7l5 1.1l7 3l14 3l19 6.9l8 5.1l5.7 5.6l0.2 1l-5.9 3.3l-10 2.9l-6 1.1l-12.3 3.7l-9.7 1.2l-16 3.3l-8 2.5l-14 2.5l-6 0.4l-8 1.5l-5 -0.1l-18 2.3l-20 3.4l-5 1.5l-8 0.5l-7 2.3l-5 0.2l-7 2.1l-19 1.7l-9 2.2l-8 1.1l-18 -1.6l-8 1.4l-8 2.2l-5 5.5l-1 0.4l-4 0l-4 -1.7l-2 -1.8l-3 -5.1l-2 -0.5M108.5 239.6l9 -1.7l2.1 1.6l2.9 4.3l2 1.1l8 -5.7l12 -0.1l5 1l15 0.4l22 3.5l29 3.4l7 0.2l13 2l12 3.4l5.2 0.5l5.8 2.8l6 0.6l6 1.3l6 2.5l7 2.2l4 0.6l8 3.3l4 0.9l1.6 0.8l2.8 3l2.1 3l0.1 1l-1.9 3l-3.7 3.2l-5 2.5l-10 3.4l-8 1.1l-5 1.9l-14.2 1.9l-5.8 1.6l-6 0.4l-20 4.8l-9 1.5l-7 2.6l-5 0.4l-11 2.8l-6 0.2l-8 1.2l-8 2.6l-5 0.2l-5 1.4l-5 -0.7l-12 -0.4l-5 1.6l-5 0.1l-8 2.4l-3.2 3.3l-1.8 0.8l-5 0.2l-1 -0.4l-4 -4.3l-4 -0.2M108.5 243.7l3 -0.4l4 1.5l7 8.1l2 0.8l7 -2.4l4.1 -0.8l3.9 -2.8l3 -0.8l12 2.1l6 -0.3l26 4.7l14 3.1l9 2.3l8 2.8l6.5 0.9l13.5 3.1l2.1 0.9l0.9 1.2l2.3 7.8l-2 6l-2.3 1.8l-25 4.5l-6 3.1l-7 1l-7 2.6l-17 2.5l-13 3.5l-5 -0.7l-7 0.8l-7 -0.3l-13 4.6l-5 -0.1l-3 2.4l-1 0.2l-4 -2.2l-7 1.9l-3 -0.1M108.5 250.8l3 3l2.4 3.7l3.6 7.2l1 0.3l3 -1.7l3 -0.5l6 1.4l5 -1.8l6 -3.4l5 1.2l5 -0.3l9.6 1.6l2.2 1l3.6 3l11 7l1 1l0.2 1l-0.8 1l-15.8 10.4l-2 0.7l-14 -0.1l-9 2.7l-4 0.1l-5 1.8l-6.2 -1.6l-3.8 0.9l-3 -1.2l-4 2l-3 -0.3" fill="none" stroke="#1a1a1a" stroke-width="0.6" stroke-opacity="0.8"/>
</g>
<g clip-path="url(#clipb)" fill-rule="evenodd">
<rect x="715.5" y="20.5" width="401" height="399" fill="#0000b2"/>
<path d="M937.5 24.4l6 0l4 -0.8l7 1.4l10 -1l17 0.9l7 -0.8l6 0.6l13 -0.4l5 0.5l4 -0.6l5 0.8l6 -0.9l5 0.8l8 -0.3l10 1.6l5 -0.9l5 0.1l8 -1.1l10 1l14 0.4l8 1l6 -1.1l5 0.7l4 -2.7l0 394.9l-223 0l-176 0l0 -382.4l3 -4.3l2 -1.6l1.8 1.3l3.2 5.1l3 0.5l3 -0.5l5 -2.6l9 1.6l7 -0.7l10 0.4l5 -1.3l11.4 -1.5l27.6 -0.8l5 -1l5 -0.2l5 -1.3l9 -0.1l6 -1.1l7 0.5l6 -0.7l9 0.2l9 -1.2l10 0.2l9 -1.1l7 2l8 -0.7l9 0.2l9 -1.4l11 -0.5z" fill="#0000e6"/>
<path d="M1115.5 28.2l0 390.3l-399 0l0 -24l0 -356.2l4 -5.6l1 -0.4l1 0.5l3 5.2l2 1.4l4 -0.4l6 -2.4l6 1.8l4 0.6l6 -0.8l11 1.5l5 -0.9l9 -0.2l9 1.2l21 0.3l6 -0.8l6 0.4l17 -1.2l7 0.5l9.7 -1.5l16.3 -4l16 -0.3l7 1.1l6 -0.7l5 0.4l13 -1.4l19 -0.8l12 -1.1l33 1l5 -0.4l7 0.9l27 -0.3l5 -0.9l7 0.7l7 -0.3l11 1.1l11 -0.2l7 -1.1l5 0.7l21 0l5 0.7l7 -0.6l3 0.7l2 -0.6z" fill="#001aff"/>
<path d="M721.5 34.4l5 6.5l5 0l5 -1.6l2 0.2l3.7 2l2.3 3l1.5 1l6.5 0l10 2.1l7 -1l4 0.4l7 -0.9l20 0.8l30 -0.4l8 -1l6 0.8l15.9 -2.8l17.1 -1.9l9 -0.3l7 0.8l5 -1.1l5 0.3l13 -1.6l10 0.5l5 -0.6l12 -0.1l5 -0.7l13 0.3l12 -0.6l6 0.5l6 -0.9l6 0.8l10 -0.1l6 0.6l16 -0.4l9 1.3l6 -0.6l5 0.3l5 -0.3l12 0.8l8 -1.3l4 0.2l12 -1l5 0.2l4 -0.6l9 0l7 1.6l3 -1.2l3 -4.1l0 361.2l0 23l-399 0l0 -377.9l3 -5zM1083.3 66.5l-1.3 1l-0.9 2l0.4 5l3 1.7l4 1.1l3 -0.2l2 -0.9l2 -1.7l0.4 -1l-0.4 -5l-1.4 -1l-4.6 -1.7l-3 0z" fill="#004dff"/>
<path d="M720.5 37.3l1 0l1 0.9l4.1 7.3l5.4 3l2.3 2l1 3l1 1l2.2 0.7l4 -0.1l8 1l6 -0.8l6 1.5l18 -1.8l8 0.5l6 -1.1l7 0.9l8 -1l13 0.1l6 0.5l9 -1.4l9 1l5 -0.6l21 0.2l35 -2.3l8 -1.2l8 1l28 -1.8l16 1l6 -0.5l12 0.2l6 0.9l10 -0.8l18 0.9l15 1.4l11 -0.8l6 0.3l4 0.9l6 -0.3l4 -1.1l2 -1.4l-0.3 -3l1.3 -2.3l7 -2.4l9 -1.3l5 0.1l4 -0.8l8 -0.5l7 1.7l7 -0.8l0 14.8l-11 0.5l-7 1.2l-11 -3.4l-7 -0.6l-8 0.9l-12 0.1l-4 0.9l-4 0l-2.8 0.9l-1.2 2l0.5 2l3.2 2l4.3 1.2l10 1.5l2 1.1l-0.5 6.2l0.5 4l1.9 2l3.6 2l0.8 1l0.4 4l1.3 1.3l8 2.1l6 0.9l12 -1.5l4 0l4 -0.9l6 2.2l0 225.9l0 103l-399 0l0 -375.3zM1111.5 66.3l4 -0.3l-0.2 10.5l-4.3 -4l-1.3 -2l0.1 -3z" fill="#0080ff"/>
<path d="M1099.5 42.3l3 -0.3l5 1.6l5 -0.2l3 1l0 7.6l-5 -0.5l-11 1.5l-3 0l-8 -2.1l-5.5 -2.4l-1.3 -1l-0.2 -1l3.1 -2zM894.5 71.4l5 -0.5l19 1.3l25 -0.1l8 1.2l7 -0.3l6 0.6l9 -0.2l7 0.8l6 -0.2l6 1l16 -0.1l3.2 0.6l3.4 2l0.6 8l0.6 1l3.2 1.4l10 1.9l9 0.5l10 1.3l7 1.6l13.1 1.3l4.5 2l1.8 3l5.5 2l9.1 0.3l6 -0.9l6 1.1l7 0l4 -0.9l3 0.5l0 316.9l-185 0l-214 0l0 -140.3l4.3 -4.7l0.2 -4l-0.1 -17l-0.7 -2l-3.7 -4.6l0 -151.5l2 0.1l3 -1.3l4.2 1.3l0.5 -2l4.3 -6l4.1 -4l0.6 -4l1.3 -2l1 -0.5l7 1.3l13 -1.3l5 0.1l5 -0.9l14 0.2l14 -1.2l6 0.3l5 -0.8l28 -0.2l5 -0.8l6 0.2l5 -0.8l6 0.9l8 -0.4l7 0.4l6 -0.6l7 0.4z" fill="#00b2ff"/>
<path d="M1100.5 45.2l3 -0.5l4.2 1.8l0.6 1l-0.9 1l-1.9 0.6l-6 -0.6l-1 -0.5l-0.4 -0.5l0.2 -1zM836.5 84.4l3 -0.5l6 1.6l6 -0.1l6 1.3l6 -0.3l13 1l12 -0.4l5 0.9l7 -1l13 1.5l6 0.1l9 2.3l12 1.3l6 1.5l6 -0.7l6 1.3l11 0.5l4.9 1.8l1.1 2l1.4 1l7.6 1.7l10 0.6l12 -0.2l9 1.3l32 0.4l19.7 2.2l5.3 1.4l1 0.6l0.7 3l0.8 1l5.5 2.1l7 -0.4l12 1.4l12 -2.4l4 1.2l0 305.1l-230 0l-169 0l0 -126.7l4 -3.1l2 -0.7l5 2.4l8 0.2l7 1.7l8 -2.2l25 -2.4l10 -3.4l9.3 -1.8l2.3 -1l1.1 -2l14.3 -3l1.2 -1l1 -3l1.5 -2l2.2 -1l4.1 -0.2l1.5 -0.8l0.7 -1l0.3 -3l-0.1 -3l-1.1 -2l-8 -3l-0.9 -1l-0.8 -4l-1.2 -1l-9.4 -2.1l-7 -0.7l-2 -1.2l-1.9 -3l-2.1 -1.1l-13 -1.4l-6 0l-9 -2.1l-5 0.5l-6 -1.3l-4 0.3l-5 -1.5l-2 0.5l-4 2.6l-2 0.3l-3 -1.7l-7 -1.5l-3 0.4l-1.4 -1l-3.6 -8.6l0 -123.6l2 -0.7l4 -2.5l5 1.8l3.4 -0.4l5.6 -5.1l5.5 -1.9l1.6 -2l1.1 -4l1.1 -1l2.7 -0.9l19 -1.6l13 0.5l10 -1.4l6 0.3l10 -0.6l9 0.8l6 -0.7l12 0.1z" fill="#00e5ff"/>
<path d="M744.5 102.4l6 -0.8l4 0.6l4 -0.2l5 1.1l5 -0.4l7 2.1l11 1.8l13 0.3l5 0.7l32 0.4l37 3.3l11 0.4l10 1.4l9 0.3l6 0.8l12 0.1l11 1.8l5 -0.1l6 0.7l8 -0.7l11 1l4 1.3l6 -1.2l7 1.9l7 0.2l7 -0.7l6 0.5l7 1.6l17 -0.1l7 0.8l12 -0.4l9 1l5 -0.1l14 1.6l6.2 4.1l3.8 0.9l20 0.6l5 0.8l10 -1.6l0 290.3l-228 0l-171 0l0 -118.5l11 2.5l5 -0.2l4 3.3l1 0.2l4 -0.4l10 0.9l8 -2.8l12 -0.6l10 -1.7l11 -3.3l7 -0.4l9 -2.1l9 -1.2l6 -0.3l11 -3.1l11 -1.1l8 -2.6l7 -3.4l8.4 -2.2l4.6 -0.6l7 -3.1l5 -1.1l5 -1.9l3.6 -4.3l9.4 -4l-0.1 -1l-1.7 -1l-6.5 -1l-2.2 -1l-0.7 -1l-0.4 -3l-0.9 -2l-2.5 -1.5l-8.2 -2.5l-0.9 -1l-1 -3l-1.2 -1l-12.6 -2l-4 -2l-1.5 -3l-2.6 -1.4l-7 -1.1l-7 -0.1l-6 -3.8l-9 -1.9l-20 -7.2l-11 -0.8l-6 -1.6l-9 0.2l-14 -2l-4 0.2l-6 -1.1l-11 1.4l-6 2.3l-1.2 0.9l-0.7 2l-1.1 1.1l-6 -0.1l-5 3.4l-2 0l-2 -1.2l-1.4 -4.2l-0.3 -22l-1.3 -2l-3 -2l0 -77.3l3 0.7l4 -1.7l5 -0.3l4.9 -2.4l1.5 -2l0.1 -7l0.7 -2l2.6 -2z" fill="#1affe5"/>
<path d="M934.5 134.5l12 0.8l6 -1.1l7 0.8l6 -0.8l8 0.5l5 1.2l6 -0.7l5 0.7l6 -0.4l10 0.9l5.9 1.1l2.2 1l1.3 1l1.6 2.8l2 0.7l5 0.3l6 1.4l6 -0.1l5 1.2l5 0.4l6 1.2l10 0.6l10.5 2.5l1.5 1l0.5 3l-0.2 1l-1 1l-2.3 1.2l-1.7 1.8l-0.1 12l0.6 1l2.2 1.4l8 1.8l12 0.5l6 -1.9l5 0.4l5 -0.6l2 -1l3.6 -4.6l2.4 -1.6l0 251.6l-399 0l0 -95l0 -7.3l9 -3.9l3 0.2l1.8 1l3.7 5l1.5 1.2l4 -1l5 0.4l10 -2.5l17 -0.9l10 -2.1l7 -2.8l6 -1.1l11 -1l12 -3.2l6 -0.6l16 -3.2l13 -0.5l12 -2.3l7 -0.5l5 -1.3l5 0.2l10 -1.1l30 -7l6 -2.3l10 -0.2l19 -2.8l12 -1l5 -0.9l3.5 -1.5l1.4 -3l1 -6l1.1 -1l5.4 -2l0.8 -1l-0.5 -1l-4.7 -1.8l-1.7 -1.2l-2.5 -5l-5.9 -2l-1.6 -4l-1.1 -1l-6.2 -2.6l-4.5 -3.4l-2.5 -0.7l-5 0.2l-8 -0.9l-7.6 -1.6l-1.1 -1l-0.3 -1l-0.2 -5l-0.8 -1l-3 -1.5l-6 -1l-11 -0.3l-11 -2.4l-5 -0.3l-8 -2.4l-5 -0.8l-12 -4.1l-7 -1.2l-3 -1l-1.2 -1l-0.8 -2l-3 -1.6l-4 -0.9l-12 -1.3l-1.9 -1.2l-1.8 -2l-2.3 -1.2l-18 -4.2l-1.2 -0.6l-1.8 -4l-3.1 -2l-10.9 -1.9l-10 -2.4l-6 -0.1l-8 -1l-5 1.1l-6 -0.2l-15 2.3l-3 -0.2l-5 -1.4l-5 2.9l-10 2.9l-3.8 -2l-1.5 -2l-0.2 -32l0.5 -3l3 -4.4l2 -0.5l4 1.1l2.1 -1.2l2.3 -3l0.4 -12l2.2 -1.8l6 -1.8l5 0.6l6 -0.7l10 1.5l5 0l2.6 1.2l1.5 2l1.9 1.3l10 2.5l3 0.2l11 -0.2l10 -1.5l8 -2.2l1.4 -1.1l5 -2l6.6 -0.2l8 -1.4l8 -0.2l11 1.5l6 -0.6l9 1.3l6 -0.9l7 0.1l15 -2l6 0.2l13 -0.9l9 0.2z" fill="#4dffb2"/>
<path d="M974.5 166.4l3 -0.4l7.3 0.5l2.3 1l3.8 3l6.6 2l1.7 1l1 2l0.5 7l3.2 2l6.6 1.4l2.8 1.6l0.8 5l1.4 2.1l3 1.1l10 1.1l11 2.2l3.4 1.5l1.6 3l1 0.8l5 1.8l3 0.6l3.2 -1.2l1 -2l0.6 -5l1.2 -1.2l3 -0.9l4 0.8l10 3.7l7 1.6l2.1 2l1.9 1l5 2.2l6 1.8l0.8 1l0.5 5l1.7 1.8l2 0.8l2 0.2l2.6 -0.8l0.9 -1l1.4 -5l5.1 -2.3l0 209.3l-337 0l-62 0l0 -88.4l4.7 -4.6l2.3 -0.2l4 1.6l4 0.6l5 1.8l4 -0.1l4 1l7 0.2l8 -2.8l8 0.1l10 -2.6l5 -0.7l5 -2l7 -0.2l23 -5.3l8 -0.4l14 -3.7l12 -0.3l8 -2.1l7 0.6l8 -1l19 -0.6l6 -1.4l6 -0.4l6 -1.6l24 -2.1l5 -1.4l6 -0.4l6 -1.6l10 -0.4l9 -2.1l8 -1.1l5 -1.5l16 -2.4l6 -2.6l8 -1l19 -6.3l6 -0.7l5 -2.3l7 -1.2l3 -1.3l2.6 -2.1l0.6 -2l0 -9l-0.4 -2l-1 -1l-3.8 -1.7l-21.3 -4.3l-5.7 -3.7l-10.6 -3.3l-0.9 -2l-0.5 -7l-3 -2l-6 -1.5l-3 -1.5l-0.9 -1l-0.4 -4l-1 -2l-2.7 -1.3l-7 -1.8l-1.3 -1.9l-0.3 -5l-1.5 -2l-2.9 -1.1l-2 0l-2 1.1l-2 2.4l-2 0.8l-3 -0.7l-1.6 -1.5l-0.3 -47l1.3 -2zM980.8 177.5l-1.5 1l-0.5 2l0.2 15l1.2 2l1.3 0.9l2 0.3l2 -0.7l1.9 -1.5l0.6 -2l-0.1 -14l-0.5 -1l-1.7 -1l-3.2 -1.1z" fill="#80ff80"/>
<path d="M1114.5 293.2l1 -0.3l0 125.6l-399 0l0 -18l0 -62.8l2 0l3 -1.2l4 2.7l5 -0.7l6 5.4l2 0.4l6 -2.9l7 0.4l8 -2.3l7 0.2l13 -3.9l4 -0.2l5 -1.5l12 -1.8l7 -2.7l16 -1.8l6 -1.9l12 -2.5l10 -0.5l7 -1.3l7 0.2l9 -1.3l23 -0.3l21 -3.1l17 -1.7l5 -1.1l9 0l6 -1.7l6 -0.1l21 -4.1l8 -0.7l14 -3.2l7 0.2l37 -5.6l8 -0.6l7 0.5l10 -2.4l8 -0.7l5 -1.9l6 0.5l5 -0.7l4 1l5 -0.4l4 1z" fill="#b3ff4c"/>
<path d="M1114.5 303.2l1 -0.4l0 115.7l-399 0l0 -10l0 -61.2l4 3.2l6 1.7l4 -0.2l2 0.9l4 3.3l2 0.1l7 -2.7l6 0.1l7 -2.6l13 -1.5l7 -2.2l7 -0.4l19 -5.3l5 -0.4l17 -3l15 -4.2l16 -1.4l5 0.5l12 -2.5l12 0.5l7 -1l5 0l10 -1.4l8 -0.5l15 -2.9l4 0.3l5 -0.8l5 0.2l10 -2.1l15 -1.1l9 -2.3l6 -0.4l23 -3.8l13 -0.8l6 -1.5l16 -1.1l6 -1.6l6 -0.6l7 0.2l13 -2.9l6 -0.1l6 -2.2l5 0.3l5 -0.9l4 0.8l4 -0.4l4 0.7z" fill="#e5ff1a"/>
<path d="M1114.5 312.1l1 -0.4l0 106.8l-399 0l0 -18l0 -44.9l2.2 1.9l4.8 7.3l5 1.3l5 2.6l3 0.5l6 -3.4l5 0.2l8 -2l10 -0.9l13 -3.4l6 -0.4l19 -6.1l10 -0.9l13 -2.7l17 -4.9l8 -0.8l9 0.2l14 -1.7l9 0.2l8 -1.5l9 0.3l9 -2.2l6 0.4l15 -2.9l13 -0.8l5 -1l10 -0.7l7 -1.4l9 -0.9l6 -1.6l13 -1.6l6 -1.5l5 -0.1l31 -4.4l6 0l8 -1.5l10 -0.4l5 -0.9l13 -0.5l8 -2.2l8 1l4 -2.1l2 -0.5l9 0.8z" fill="#ffe500"/>
<path d="M1114.5 319l1 -0.5l0 100l-399 0l0 -10l0 -34.4l6 5.3l5 0.7l6 3.2l3 0.4l24 -6.8l16 -2.6l22 -6.1l9 -1.3l10 -3l6 -1.1l13 -4.3l7 -1.7l6 0.1l9 -1.2l9 -0.2l9 -1.8l8 -0.2l5 -0.9l6 0.2l12 -2l7 -0.5l5 -1.2l6 0l5 -1.1l13 -0.9l21 -2.5l7 -1.6l23 -3.8l35 -4.7l7 -2l6 -0.3l20 -3l5 -0.1l6 -1.4l5 0.2l5 -1.7l9 0.3l8 -1.9l7 0.3l2 -1.1z" fill="#ffb300"/>
<path d="M1114.5 328.2l1 -0.5l0 90.8l-399 0l0 -14l0 -4l4 -3.3l4 1.9l4 0.3l3.1 3.1l4.9 8.1l1 -0.3l3 -4.4l4 -3.9l7 -4.9l5 -2.5l6 -4l6 -0.3l14 -4.6l11 -2.3l5 -0.5l5 -2.2l9 -0.8l15 -4.8l6 -0.3l11 -3l19 -1.4l10 -1.7l11 -0.4l6 -1.6l5 0l5 -1.2l9 -0.7l10 -2.5l12 -0.8l12 -2.3l22 -2.6l29 -6.5l9 -0.5l31 -6l12 -1.9l6 -0.3l7 -1.8l8 -0.7l6 -1.5l14 -1.8l4 0.3l10 -1l5 0.8l2 -1.1z" fill="#ff8000"/>
<path d="M1114.5 337.3l1 -0.5l0 81.7l-365.5 0l0.5 -0.9l3 -3.2l5 -3.4l5 -4.6l3 -1.5l13 -2.7l24 -6.8l6 -0.5l15 -4.5l10 -1.8l9 -2.9l8 0.4l14 -1.2l15 -0.2l5 -0.9l12 -0.4l12 -1.6l14 -3.2l7 -0.9l8 -2.2l7 -0.7l11 -3.2l5 -0.5l10 -2.4l7 -2.7l6 -0.7l13 -3.6l16 -2.1l6 -1.6l15 -2.7l5 -0.3l5 -1.7l10 -0.9l6 -1.9l8 -0.9l6 -1.8l13 -2.6l13 -1.1l4 2l2 0.1l5 -6.3zM717.5 406.3l4 -0.5l6 3.4l3.1 5.3l0.7 4l-0.8 0l-14 0l0 -12.1z" fill="#ff4c00"/>
<path d="M1115.5 352.8l0 65.7l-339.8 0l3.8 -1.5l4 -1.2l5 -0.5l11 -3.5l15 -2.4l18 -4l9 -2.8l11 -0.5l16 1.7l16 1l5 -0.2l9 1.7l2 -0.2l4 -1.3l8 -1.1l5 -2l6 -1.1l5 -2.1l13 -3.2l12 -2l14 -5.1l12 -5.7l6 -1.9l13.9 -6.1l8.1 -1.5l7 -0.5l5 -1.5l6 0l19 -3.9l16 -2.4l13 -2.4l15 -4.1l7 0.9l7 -1.4l8 1.2l2.1 -1.4zM717.5 411.5l2 2l3 5l-6 0l0 -7.4z" fill="#ff1a00"/>
<path d="M1110.5 371.4l5 1.8l0 45.3l-162 0l-5.5 0l6.5 -3l15.3 -4l5.7 -4.8l5.2 -3.2l11.8 -6.4l6 -2.1l5 -1l17 -5l27 -5.3l9 -2.8l14 -2.6l5 -0.3l12 -3.2l18 -2.1z" fill="#e50000"/>
<path d="M1099.5 393.5l7 1.1l5 -1.9l4 1.3l0 24.5l-103 0l-18.8 0l2.8 -2.5l3 -1.6l5 -0.1l11 -3.6l6 -0.4l7 -2.6l18 -3.5l27 -6.3l9 -2.7l3 -0.4l6 0.5z" fill="#b30000"/>
<path d="M1114.5 411.2l1 -0.3l0 7.6l-36 0l-0.5 0l1.5 -1l5 -1.4l9 -1.2l5 -1.6l9 0.9z" fill="#800000"/>
<path d="M716.5 36.1l3 -4.2l2 -1.6l2 1.4l3 4.9l2 0.6l3 -0.2l6 -3l7 1.6l15 -0.7l4 0.5l6 -1.5l10 -1.3l29 -0.9l4 -0.9l5 -0.3l6 -1.4l8 0l6 -1l7 0.5l7 -0.8l8 0.3l9 -1.3l10 0.3l9 -1.1l7 1.9l10 -0.7l8 0.2l7 -1.2l12 -0.7l5.2 -1l7.8 -0.1l3 -0.7l7 1.3l9 -1l18 1l7 -0.9l5 0.7l15 -0.4l4 0.5l4 -0.6l5 0.8l6 -1l6 0.9l8 -0.3l9 1.6l4 -0.9l5 0.1l8 -1.1l13 1l12 0.3l7 1l7 -1.1l5 0.8l4 -2.7M716.5 38.3l3.2 -4.8l1.8 -1.2l1 0.6l3 5.1l2 1.4l4 -0.4l6 -2.4l6 1.9l4 0.5l5 -0.7l12 1.5l5 -1l9 -0.1l9 1.1l22 0.3l5 -0.7l6 0.3l17.1 -1.2l5.9 0.6l11 -1.7l15 -3.7l17 -0.5l8 1.1l5 -0.7l4 0.4l14 -1.4l17 -0.7l14 -1.2l32 1.1l7 -0.4l7 0.9l26 -0.3l5 -1l6 0.7l9 -0.2l9.7 1l11.3 -0.1l7 -1.1l6 0.7l15 0.3l4 -0.3l6 0.6l7 -0.6l3 0.7l2 -0.5l4 -4M716.5 40.6l3 -5l2 -1.2l5 6.5l5 0l5 -1.6l2 0.2l3.7 2l2.3 3l1.5 1l6.5 0l10 2.1l7 -1l4 0.4l7 -0.9l20 0.8l30 -0.4l8 -1l6 0.8l15.9 -2.8l17.1 -1.9l9 -0.3l7 0.8l5 -1.1l5 0.3l13 -1.6l10 0.5l5 -0.6l12 -0.1l5 -0.7l13 0.3l12 -0.6l6 0.5l6 -0.9l6 0.7l10 0l6 0.6l16 -0.4l9 1.3l6 -0.6l5 0.3l5 -0.3l12 0.8l8 -1.3l4 0.2l12 -1l5 0.2l4 -0.7l9 0.1l7 1.6l3 -1.2l3 -4.1M1083.5 66.4l-1.5 1.1l-0.9 2l0.4 5l3 1.7l4 1.1l4.6 -0.8l2.4 -2l0.4 -1l-0.4 -5l-1.4 -1l-4.6 -1.7zM716.5 43.2l3 -5l1 -0.9l1 0l1 1l4.1 7.2l6.8 4l1.4 2l0.5 2l1.2 1.1l2 0.6l3 -0.1l9 1l6 -0.8l5 1.5l13 -0.8l5 -0.9l9 0.4l6 -1.1l7 0.9l8 -1l13 0.1l6 0.5l8 -1.3l9 0.8l6 -0.5l13 0.5l17 -0.7l25 -1.8l8 -1.1l9 0.8l30 -1.7l16 0.8l4 -0.4l13 0.3l5 0.8l11 -0.7l33 2.2l9 -0.8l7 0.3l4 0.9l7 -0.3l3 -1l2 -1.5l-0.3 -3l1.3 -2.3l8 -2.6l25 -2.3l7 1.8l7 -0.9M1115.5 55.9l-11 0.6l-6 1.2l-5 -1l-8 -2.7l-5 -0.4l-10 1l-11 0l-4 0.9l-4 0.1l-2.8 0.9l-1.2 2l0.5 2l3.5 2.1l15.1 2.9l1.1 1l-0.7 5l0.5 5l2 2l3.5 2l0.8 1l0.4 4l2.3 1.7l7 1.7l7 0.9l11 -1.6l4 0l4 -0.9l6 2.2M1115.5 76.6l-5.3 -5.1l-0.6 -2l0.2 -2l0.7 -0.8l5 -0.7M1115.5 52.1l-5 -0.5l-3 0.7l-5 0.1l-5 0.8l-10 -2.7l-5 -2.3l-0.8 -0.7l-0.2 -1l3.1 -2l16.9 -2.5l6 1.6l4 -0.2l4 1.1M716.5 94.4l2 0l3 -1.2l4.2 1.3l0.8 -2.4l4 -5.6l4.1 -4l0.6 -4l1.3 -2l1 -0.5l5 1.1l3 0.1l12 -1.2l4 0.2l5 -1l15 0.2l6 -0.8l15 -0.2l4 -0.7l28 -0.2l5 -0.8l5 0.2l6 -0.8l7 0.9l6 -0.5l7 0.5l7 -0.6l8 0.4l15 -1.9l19 1.3l24 -0.1l7 1.1l24 0.2l6 0.8l7 -0.1l6 0.9l16 0l4.5 1.5l1.1 1l0.6 8l0.8 1.1l2 1l10 2l8 0.4l12 1.6l8 1.7l12.1 1.2l4.5 2l1.8 3l5.6 2l9 0.2l6 -0.8l7 1.1l6 0l4 -0.9l3 0.4M716.5 278.2l4.3 -4.7l0.2 -6l-0.1 -15l-0.7 -2l-3.7 -4.6M716.5 104.3l2 -0.6l4 -2.6l5 1.9l3.4 -0.5l5.6 -5.1l5.5 -1.9l1.6 -2l1.1 -4l1.1 -1l2.7 -0.9l19 -1.5l13 0.5l10 -1.4l6 0.3l10 -0.6l8 0.7l7 -0.7l12 0.2l6 -1.1l6 1.6l6 -0.2l6 1.4l6 -0.4l13 1l12 -0.3l5 0.8l7 -1l13 1.6l6.1 0l8.9 2.3l12 1.3l6 1.6l6 -0.7l6 1.2l11 0.6l4.9 1.7l1.1 2l1.4 1l8.6 1.9l21 0.3l9 1.3l32 0.3l19 2.2l6 1.4l1 0.6l0.7 3l0.8 1l5.5 2.2l7 -0.5l12 1.5l12 -2.5l4 1.2M716.5 291.8l4 -3l2 -0.7l5 2.3l8 0.2l7 1.7l8 -2.1l25 -2.5l10 -3.3l9.3 -1.9l2.3 -1l1.1 -2l14.3 -3l1.2 -1l1 -3l1.5 -2l2.2 -1l4.1 -0.2l1.5 -0.8l0.7 -1l0.3 -3l-0.1 -3l-1.1 -2l-8 -3l-0.9 -1l-0.8 -4l-1.2 -1l-9.4 -2l-7 -0.8l-2 -1.2l-1.9 -3l-1.8 -1l-13.3 -1.5l-6 0.1l-9 -2.2l-5 0.6l-6 -1.4l-4 0.3l-5 -1.4l-2 0.4l-4 2.6l-2 0.3l-3.3 -1.8l-6.7 -1.4l-3 0.4l-1 -0.5l-4 -9.1M1100.5 45.2l3 -0.5l4.2 1.8l0.6 1l-0.9 1l-1.9 0.6l-6 -0.6l-1 -0.5l-0.4 -0.5l0.2 -1zM716.5 122.1l3 0.7l4 -1.7l5 -0.2l5 -2.5l1.4 -1.9l0.1 -7l0.7 -2l2.8 -2.2l7 -3.3l6 -0.4l3 0.6l4 -0.2l5 1.1l6 -0.4l6 2.1l11 1.7l13 0.4l5 0.6l31 0.4l50 3.8l8 1.3l9 0.2l6 0.9l13 0.1l11 1.8l5 -0.1l7 0.7l7 -0.7l11 1l5 1.3l6 -1.1l6 1.8l7 0.2l7 -0.6l7 0.6l6 1.4l5 -0.4l6 0.6l7.1 -0.2l5.9 0.7l12 -0.4l8 1l6 0l10 0.8l4.4 0.9l5.8 4l3.8 0.9l20 0.6l5 0.7l10 -1.6M716.5 300l11 2.6l5 -0.3l4 3.3l1 0.2l4 -0.4l10 1l8 -2.9l12 -0.6l10 -1.7l12 -3.5l5 -0.1l11 -2.4l15 -1.5l9 -2.6l9 -0.9l5 -1.1l5 -1.6l7 -3.4l9.4 -2.6l4.6 -0.6l7 -3.1l6 -1.4l4.4 -1.9l1.9 -3l1.7 -1.2l7.5 -2.8l1.5 -1l-0.1 -1l-1.7 -1l-7.2 -1.2l-1.5 -0.8l-0.7 -1l-0.4 -3l-0.9 -2l-3.5 -1.9l-7.2 -2.1l-0.9 -1l-1 -3l-1.2 -1l-12.7 -2l-4 -2.1l-1.4 -2.9l-1.6 -1l-4 -1l-11 -0.6l-6 -3.7l-8 -1.7l-22 -7.6l-9 -0.6l-7 -1.7l-10 0.1l-13 -1.8l-4 0.1l-7 -1l-10.6 1.5l-5.4 2.1l-1.2 0.9l-0.8 2.2l-1 0.9l-6 -0.1l-4 2.9l-3 0.5l-2.1 -1.4l-1.3 -4l-0.3 -22l-1.3 -2l-3 -2M716.5 316.2l10 -4l2 0.3l2 1.2l3.5 4.8l1.5 1.2l4 -1l5 0.4l10 -2.5l18.4 -1.1l8.7 -2l6.9 -2.7l6 -1.1l11 -1l12 -3.2l6 -0.6l16 -3.2l14 -0.6l11 -2.2l7 -0.5l5 -1.3l6 0.1l9 -1l30 -7l6 -2.3l11 -0.3l18 -2.7l15 -1.4l5.5 -2l1.4 -3l1.1 -6.1l1 -0.9l5 -1.8l1.2 -1.2l-0.5 -1l-5.1 -2l-1.3 -1l-2.5 -5l-5.9 -2l-1.6 -4l-1.3 -1.1l-6.7 -2.9l-3.8 -3l-2.5 -0.7l-5 0.2l-8 -0.9l-7.6 -1.6l-1.1 -1l-0.3 -1l-0.2 -5l-2.8 -2.1l-8 -1.4l-11 -0.5l-9 -2l-7 -0.7l-7 -2.2l-4 -0.5l-14 -4.6l-6 -1l-3 -1l-1.2 -1l-0.8 -2l-1.3 -1l-5.7 -1.5l-12 -1.3l-5.4 -4.2l-18.6 -4.4l-1.2 -0.6l-1.8 -4l-5 -2.6l-9 -1.2l-11 -2.6l-5 0l-7 -1.1l-7 1.4l-5 -0.4l-14 2.3l-4 -0.2l-5 -1.4l-5 2.9l-7 2.4l-4 0.2l-3 -1.9l-1.3 -1.8l-0.1 -33l1.4 -4l2 -2.4l2 -0.5l4 1.1l2.1 -1.2l1.8 -2l0.5 -1l0.1 -11l1.1 -2l1.4 -0.7l7 -2l4 0.7l6 -0.7l9 1.4l5 0l3.6 1.3l2.6 3l12.8 3l13 -0.3l10 -1.6l7 -2l3.5 -2.1l3.5 -1.1l7 -0.2l7 -1.3l8 -0.2l11 1.5l7 -0.5l8 1.2l6 -0.9l7 0.1l14 -1.9l7 0.1l12 -0.9l10 0.2l6 -1.1l12 0.8l6 -1.1l7 0.8l6 -0.8l8 0.5l5 1.2l5 -0.7l6 0.7l7 -0.3l15 1.9l3.4 2l1.8 3l1.8 0.5l5 0.3l6 1.4l6 -0.1l5 1.3l5 0.3l6 1.2l10 0.6l10.5 2.5l1.5 1l0.4 1l-0.1 3l-5 4l-0.3 11l0.8 2l3.2 1.8l8 1.5l8 0.4l4 -0.1l5 -1.8l4 0.4l6 -0.6l2 -1l3.6 -4.6l2.4 -1.6M716.5 330.1l4 -4.3l2 -0.6l14 4.1l4 -0.1l4 0.9l7 0.2l8 -2.7l8 0l10 -2.5l5 -0.7l5 -2.1l7 -0.1l23 -5.3l8 -0.4l14 -3.8l12 -0.2l8 -2.2l7 0.7l8 -1.1l19 -0.5l6 -1.4l6 -0.4l6 -1.6l24 -2.2l5 -1.3l6 -0.4l6 -1.6l10 -0.4l9 -2.2l8 -1l5 -1.6l15 -2.1l7 -2.9l8 -1l19 -6.3l6 -0.7l5 -2.3l7 -1.2l3.2 -1.3l2.4 -2l0.6 -2l-0.1 -10l-1.3 -2l-3.8 -1.7l-21.3 -4.3l-5.7 -3.7l-10.6 -3.3l-0.9 -2l-0.5 -7l-3 -2l-6 -1.5l-3 -1.5l-0.9 -1l-0.4 -4l-1 -2l-2.7 -1.3l-7 -1.9l-1.3 -1.8l-0.3 -5l-1.5 -2l-2.9 -1.2l-2 0l-2 1.2l-2 2.3l-2 0.9l-3 -0.7l-1.6 -1.5l-0.3 -47l1.3 -2l2.6 -1.1l3 -0.5l7.3 0.6l2.3 1l3.8 3l6.6 2l1.7 1l1 2l0.5 7l3.2 2l6.6 1.3l2.8 1.7l0.8 5l1.4 2.1l3 1l10 1.2l11 2.2l3.4 1.5l1.6 3l1 0.8l5 1.8l3 0.5l3.2 -1.1l1 -2l0.6 -5l1.2 -1.2l3 -0.9l4 0.7l10 3.7l7 1.6l2.1 2.1l1.9 1l5 2.2l6 1.8l0.8 1l0.5 5l1.7 1.8l2 0.7l2 0.3l2.6 -0.8l0.9 -1l1.4 -5l5.1 -2.3M981.5 177.4l-2 0.9l-0.6 1.2l-0.1 15l0.6 2l1.1 1.3l2 0.9l2 -0.2l1.8 -1l1.6 -2l0 -15l-0.6 -1l-1.6 -1zM716.5 337.7l2 0l3 -1.2l4 2.7l5 -0.7l6 5.4l2 0.4l6 -2.9l7 0.4l8 -2.3l7 0.2l13 -3.9l4.1 -0.3l4.9 -1.4l12 -1.8l7 -2.7l16 -1.8l6 -1.9l12 -2.6l11 -0.6l7 -1.1l5 0.2l10 -1.3l23 -0.4l22 -3.1l17 -1.8l4 -0.9l9 0l6 -1.7l7 -0.3l19.2 -3.8l9.8 -1.1l13 -2.9l7 0.2l36 -5.5l9 -0.7l6 0.6l10 -2.3l8 -0.7l6 -2.2l6 0.6l5 -0.7l4 1l5 -0.4l4 1l5 -2.5M716.5 347.3l3 2.7l7 2.2l4 -0.3l2 0.9l4 3.3l2 0.2l7 -2.8l6 0.2l7 -2.6l14 -1.7l6 -2l7 -0.4l19 -5.3l6 -0.6l16 -2.8l12 -3.6l8 -1.3l11 -0.7l6 0.3l10 -2.2l14 0.3l22 -2.5l6 -0.2l16 -3l4 0.3l5 -0.8l6 0l9 -1.9l14 -0.9l9 -2.3l7 -0.6l22.4 -3.7l7.6 -0.3l6 -0.6l6 -1.5l16 -1.1l6 -1.6l5 -0.5l8 0.1l13 -3l6 0l6 -2.2l5 0.2l5 -0.8l4 0.7l4 -0.3l4 0.7l6 -2.5M716.5 355.6l2.2 1.9l4.8 7.3l5 1.2l5 2.6l3 0.6l6 -3.4l5 0.2l8 -2l9 -0.8l14 -3.5l6 -0.4l18 -5.8l11 -1.3l11 -2.2l18 -5.2l8 -0.9l10 0.2l14 -1.7l10.1 0.1l6.9 -1.4l8 0.4l10 -2.3l6 0.3l16 -2.9l11 -0.6l7 -1.2l8 -0.6l18 -2.5l4 -1.2l15 -2l5 -1.3l5 -0.2l31 -4.3l7.5 -0.2l6.5 -1.3l10 -0.4l4 -0.9l14 -0.5l7 -2.2l9 1l4 -2.1l2 -0.5l9 0.8l7 -4.7M716.5 374.2l6.1 5.3l4.9 0.7l6 3.2l3 0.4l25 -7.1l7 -0.7l18 -4.3l12 -3.4l8 -1.1l11 -3.3l5 -0.7l21 -6.3l7 0l8 -1.1l10 -0.3l8 -1.7l8.3 -0.3l3.7 -0.7l7 0.1l12 -2l6.1 -0.4l5.9 -1.3l6 -0.1l6 -1.1l12 -0.8l22.1 -2.7l6.9 -1.6l24 -3.8l33.2 -4.6l6.8 -1.9l6 -0.3l21 -3.1l5 -0.2l5 -1.2l5 0.2l5 -1.8l9 0.4l7 -1.7l8 0.1l1.1 -0.5l5.2 -5l1.7 -0.9M716.5 400.5l4 -3.3l4 1.9l4.1 0.4l3.9 4.2l4 6.9l1 -0.3l4 -5.6l4 -3.5l17 -10.6l6 -0.3l16 -5l9 -2l5 -0.5l5 -2.1l9 -0.9l14 -4.5l8 -0.8l11 -2.9l18 -1.2l10 -1.7l11 -0.4l6 -1.6l4 0l6 -1.3l10 -0.8l9 -2.3l13 -1l12 -2.3l21 -2.4l29 -6.5l10 -0.7l30 -5.9l12 -1.9l6 -0.2l6 -1.7l10 -1.1l5 -1.3l14 -1.8l4 0.4l10 -1.1l5 0.9l2.2 -1.2l4.8 -5.6l2 -1.2M716.5 406.4l5 -0.6l5 2.7l3.3 4l1.3 4l0.2 2M750 418.5l3.5 -4.1l4.3 -2.9l5.7 -5.1l4.1 -1.9l11.9 -2.3l23.7 -6.7l6.3 -0.6l15 -4.5l10 -1.8l9 -2.9l8 0.4l14 -1.2l15 -0.2l5 -0.8l13 -0.6l11 -1.5l15 -3.4l7 -0.9l6 -1.7l9 -1.3l10 -2.9l5 -0.5l10 -2.4l7 -2.7l5 -0.5l15 -3.9l14 -1.8l6 -1.6l17 -3l4 -0.2l6 -1.8l10 -1l5.2 -1.7l7.8 -0.9l6 -1.8l13 -2.6l13 -1.1l4 2l2 0.1l5.4 -6.7l3.6 -2.7M716.5 411.1l2.2 1.4l3.9 6M775.7 418.5l7.8 -2.7l4.2 -0.3l11.8 -3.7l15 -2.4l19 -4.3l8 -2.5l11 -0.5l15 1.6l17 1.1l6 -0.1l8 1.6l2 -0.2l4 -1.3l7 -0.9l7 -2.5l5.2 -0.9l5.8 -2.2l13 -3.2l10.1 -1.6l15.9 -5.7l13 -6.1l4.2 -1.2l12.8 -5.8l8 -1.6l8 -0.6l5 -1.5l6 0l19 -3.9l16 -2.4l14 -2.7l15 -3.9l6 1l7 -1.4l8 1.2l2.1 -1.4l2.9 -4.7M948 418.5l7.5 -3.2l14.3 -3.8l6.7 -5.4l16 -9l16 -4.8l13 -3.5l27 -5.3l8 -2.6l14 -2.5l4 -0.2l12 -3.1l20 -2.6l4 -1.1l5 1.8M993.7 418.5l2.8 -2.5l3 -1.6l5 -0.1l11 -3.6l6 -0.5l7 -2.5l18 -3.5l29 -6.9l7 -2.1l4 -0.4l5 0.5l7 -1.8l8 1.1l5 -1.9l4 1.3M1079 418.5l1.5 -1l5 -1.4l9 -1.2l5 -1.6l9 0.9l7 -3.3" fill="none" stroke="#1a1a1a" stroke-width="0.6" stroke-opacity="0.8"/>
</g>
<path d="M116.1 418.5v6M116.1 21.5v-6M137.5 418.5v6M137.5 21.5v-6M158.8 418.5v6M158.8 21.5v-6M180.2 418.5v12M180.2 21.5v-12M201.6 418.5v6M201.6 21.5v-6M222.9 418.5v6M222.9 21.5v-6M244.2 418.5v6M244.2 21.5v-6M265.6 418.5v12M265.6 21.5v-12M286.9 418.5v6M286.9 21.5v-6M308.3 418.5v6M308.3 21.5v-6M329.7 418.5v6M329.7 21.5v-6M351.0 418.5v12M351.0 21.5v-12M372.3 418.5v6M372.3 21.5v-6M393.7 418.5v6M393.7 21.5v-6M415.1 418.5v6M415.1 21.5v-6M436.4 418.5v12M436.4 21.5v-12M457.8 418.5v6M457.8 21.5v-6M479.1 418.5v6M479.1 21.5v-6M500.4 418.5v6M500.4 21.5v-6M108.5 419.3h-6M507.5 419.3h6M108.5 409.7h-6M507.5 409.7h6M108.5 401.7h-6M507.5 401.7h6M108.5 394.7h-6M507.5 394.7h6M108.5 388.5h-6M507.5 388.5h6M108.5 383.0h-12M507.5 383.0h6M108.5 346.7h-6M507.5 346.7h6M108.5 325.5h-6M507.5 325.5h6M108.5 310.5h-6M507.5 310.5h6M108.5 298.8h-6M507.5 298.8h6M108.5 289.2h-6M507.5 289.2h6M108.5 281.2h-6M507.5 281.2h6M108.5 274.2h-6M507.5 274.2h6M108.5 268.0h-6M507.5 268.0h6M108.5 262.5h-12M507.5 262.5h6M108.5 226.2h-6M507.5 226.2h6M108.5 205.0h-6M507.5 205.0h6M108.5 190.0h-6M507.5 190.0h6M108.5 178.3h-6M507.5 178.3h6M108.5 168.7h-6M507.5 168.7h6M108.5 160.7h-6M507.5 160.7h6M108.5 153.7h-6M507.5 153.7h6M108.5 147.5h-6M507.5 147.5h6M108.5 142.0h-12M507.5 142.0h6M108.5 105.7h-6M507.5 105.7h6M108.5 84.5h-6M507.5 84.5h6M108.5 69.5h-6M507.5 69.5h6M108.5 57.8h-6M507.5 57.8h6M108.5 48.2h-6M507.5 48.2h6M108.5 40.2h-6M507.5 40.2h6M108.5 33.2h-6M507.5 33.2h6M108.5 27.0h-6M507.5 27.0h6M108.5 21.5h-12M507.5 21.5h6" stroke="#8a8a8a" stroke-width="1" fill="none"/>
<rect x="108.5" y="21.5" width="399.0" height="397.0" fill="none" stroke="#8a8a8a" stroke-width="1"/>
<text x="180.7" y="457.6" font-size="26" text-anchor="middle">0.8</text>
<text x="266.1" y="457.6" font-size="26" text-anchor="middle">1.0</text>
<text x="351.5" y="457.6" font-size="26" text-anchor="middle">1.2</text>
<text x="436.9" y="457.6" font-size="26" text-anchor="middle">1.4</text>
<text x="54.5" y="391.4" font-size="26">10<tspan font-size="15.5" dx="-2.3" dy="-9.8">0</tspan></text>
<text x="54.5" y="270.9" font-size="26">10<tspan font-size="15.5" dx="-2.3" dy="-9.8">1</tspan></text>
<text x="54.5" y="150.4" font-size="26">10<tspan font-size="15.5" dx="-2.3" dy="-9.8">2</tspan></text>
<text x="54.5" y="29.9" font-size="26">10<tspan font-size="15.5" dx="-2.3" dy="-9.8">3</tspan></text>
<path d="M724.2 418.5v6M724.2 21.5v-6M745.5 418.5v6M745.5 21.5v-6M766.9 418.5v6M766.9 21.5v-6M788.2 418.5v12M788.2 21.5v-12M809.6 418.5v6M809.6 21.5v-6M830.9 418.5v6M830.9 21.5v-6M852.2 418.5v6M852.2 21.5v-6M873.6 418.5v12M873.6 21.5v-12M895.0 418.5v6M895.0 21.5v-6M916.3 418.5v6M916.3 21.5v-6M937.7 418.5v6M937.7 21.5v-6M959.0 418.5v12M959.0 21.5v-12M980.4 418.5v6M980.4 21.5v-6M1001.7 418.5v6M1001.7 21.5v-6M1023.1 418.5v6M1023.1 21.5v-6M1044.4 418.5v12M1044.4 21.5v-12M1065.8 418.5v6M1065.8 21.5v-6M1087.1 418.5v6M1087.1 21.5v-6M1108.5 418.5v6M1108.5 21.5v-6M716.5 419.3h-6M1115.5 419.3h6M716.5 409.7h-6M1115.5 409.7h6M716.5 401.7h-6M1115.5 401.7h6M716.5 394.7h-6M1115.5 394.7h6M716.5 388.5h-6M1115.5 388.5h6M716.5 383.0h-12M1115.5 383.0h6M716.5 346.7h-6M1115.5 346.7h6M716.5 325.5h-6M1115.5 325.5h6M716.5 310.5h-6M1115.5 310.5h6M716.5 298.8h-6M1115.5 298.8h6M716.5 289.2h-6M1115.5 289.2h6M716.5 281.2h-6M1115.5 281.2h6M716.5 274.2h-6M1115.5 274.2h6M716.5 268.0h-6M1115.5 268.0h6M716.5 262.5h-12M1115.5 262.5h6M716.5 226.2h-6M1115.5 226.2h6M716.5 205.0h-6M1115.5 205.0h6M716.5 190.0h-6M1115.5 190.0h6M716.5 178.3h-6M1115.5 178.3h6M716.5 168.7h-6M1115.5 168.7h6M716.5 160.7h-6M1115.5 160.7h6M716.5 153.7h-6M1115.5 153.7h6M716.5 147.5h-6M1115.5 147.5h6M716.5 142.0h-12M1115.5 142.0h6M716.5 105.7h-6M1115.5 105.7h6M716.5 84.5h-6M1115.5 84.5h6M716.5 69.5h-6M1115.5 69.5h6M716.5 57.8h-6M1115.5 57.8h6M716.5 48.2h-6M1115.5 48.2h6M716.5 40.2h-6M1115.5 40.2h6M716.5 33.2h-6M1115.5 33.2h6M716.5 27.0h-6M1115.5 27.0h6M716.5 21.5h-12M1115.5 21.5h6" stroke="#8a8a8a" stroke-width="1" fill="none"/>
<rect x="716.5" y="21.5" width="399.0" height="397.0" fill="none" stroke="#8a8a8a" stroke-width="1"/>
<text x="788.7" y="457.6" font-size="26" text-anchor="middle">0.8</text>
<text x="874.1" y="457.6" font-size="26" text-anchor="middle">1.0</text>
<text x="959.5" y="457.6" font-size="26" text-anchor="middle">1.2</text>
<text x="1044.9" y="457.6" font-size="26" text-anchor="middle">1.4</text>
<text x="662.5" y="391.4" font-size="26">10<tspan font-size="15.5" dx="-2.3" dy="-9.8">0</tspan></text>
<text x="662.5" y="270.9" font-size="26">10<tspan font-size="15.5" dx="-2.3" dy="-9.8">1</tspan></text>
<text x="662.5" y="150.4" font-size="26">10<tspan font-size="15.5" dx="-2.3" dy="-9.8">2</tspan></text>
<text x="662.5" y="29.9" font-size="26">10<tspan font-size="15.5" dx="-2.3" dy="-9.8">3</tspan></text>
<rect x="519.0" y="20.5" width="12.3" height="398" fill="url(#jet)"/>
<text x="540.2" y="401.0" font-size="26">0.2</text>
<text x="540.2" y="331.4" font-size="26">0.3</text>
<text x="540.2" y="261.8" font-size="26">0.4</text>
<text x="540.2" y="192.2" font-size="26">0.5</text>
<text x="540.2" y="122.6" font-size="26">0.6</text>
<text x="540.2" y="53.1" font-size="26">0.7</text>
<path d="M531.3 392.1h-3M531.3 322.5h-3M531.3 252.9h-3M531.3 183.3h-3M531.3 113.7h-3M531.3 44.2h-3" stroke="#333" stroke-width="0.8" fill="none"/>
<rect x="1127.0" y="20.5" width="12.3" height="398" fill="url(#jet)"/>
<text x="1148.2" y="380.1" font-size="26">0.1</text>
<text x="1148.2" y="323.1" font-size="26">0.2</text>
<text x="1148.2" y="266.0" font-size="26">0.3</text>
<text x="1148.2" y="209.0" font-size="26">0.4</text>
<text x="1148.2" y="152.0" font-size="26">0.5</text>
<text x="1148.2" y="95.0" font-size="26">0.6</text>
<text x="1148.2" y="38.0" font-size="26">0.7</text>
<path d="M1139.3 371.2h-3M1139.3 314.2h-3M1139.3 257.1h-3M1139.3 200.1h-3M1139.3 143.1h-3M1139.3 86.1h-3M1139.3 29.1h-3" stroke="#333" stroke-width="0.8" fill="none"/>
<text x="5.0" y="30.3" font-size="30">(<tspan font-style="italic">a</tspan>)</text>
<text x="613.0" y="30.3" font-size="30">(<tspan font-style="italic">b</tspan>)</text>
<g transform="translate(0,0)">
<text x="234.6" y="500.5" font-size="28.5" font-style="italic">C</text>
<text transform="translate(251.5,500.5) skewX(-16) scale(1.08,1.08)" font-size="28" font-style="italic">f</text>
<text x="265.2" y="504.6" font-size="19" font-style="italic">ls</text>
<path d="M288.2 481.5L279.1 506.6" stroke="#000" stroke-width="1.5"/>
<text x="292.3" y="500.5" font-size="28.5" font-style="italic">C</text>
<text transform="translate(309.9,500.5) skewX(-16) scale(1.08,1.08)" font-size="28" font-style="italic">f</text>
<path d="M336.5 493.4h19M346 483.6v19.6" stroke="#000" stroke-width="1.4"/>
<text x="366.8" y="500.5" font-size="27.5">1</text>
<path d="M296.5 477.3h30.5" stroke="#000" stroke-width="1.2"/>
</g>
<g transform="translate(608,0)">
<text x="234.6" y="500.5" font-size="28.5" font-style="italic">C</text>
<text transform="translate(251.5,500.5) skewX(-16) scale(1.08,1.08)" font-size="28" font-style="italic">f</text>
<text x="265.2" y="504.6" font-size="19" font-style="italic">ls</text>
<path d="M288.2 481.5L279.1 506.6" stroke="#000" stroke-width="1.5"/>
<text x="292.3" y="500.5" font-size="28.5" font-style="italic">C</text>
<text transform="translate(309.9,500.5) skewX(-16) scale(1.08,1.08)" font-size="28" font-style="italic">f</text>
<path d="M336.5 493.4h19M346 483.6v19.6" stroke="#000" stroke-width="1.4"/>
<text x="366.8" y="500.5" font-size="27.5">1</text>
<path d="M296.5 477.3h30.5" stroke="#000" stroke-width="1.2"/>
</g>
<g transform="translate(34.5,244) rotate(-90)"><text x="1.3" y="0" font-size="28" font-style="italic">y</text><path d="M15.4 -14.85h12.3M21.55 -21.3v12.9" stroke="#000" stroke-width="1.3"/><text x="29.6" y="-10.6" font-size="17">,</text><text x="34.6" y="-11.2" font-size="17" font-style="italic">ls</text></g>
</svg></body></html>
